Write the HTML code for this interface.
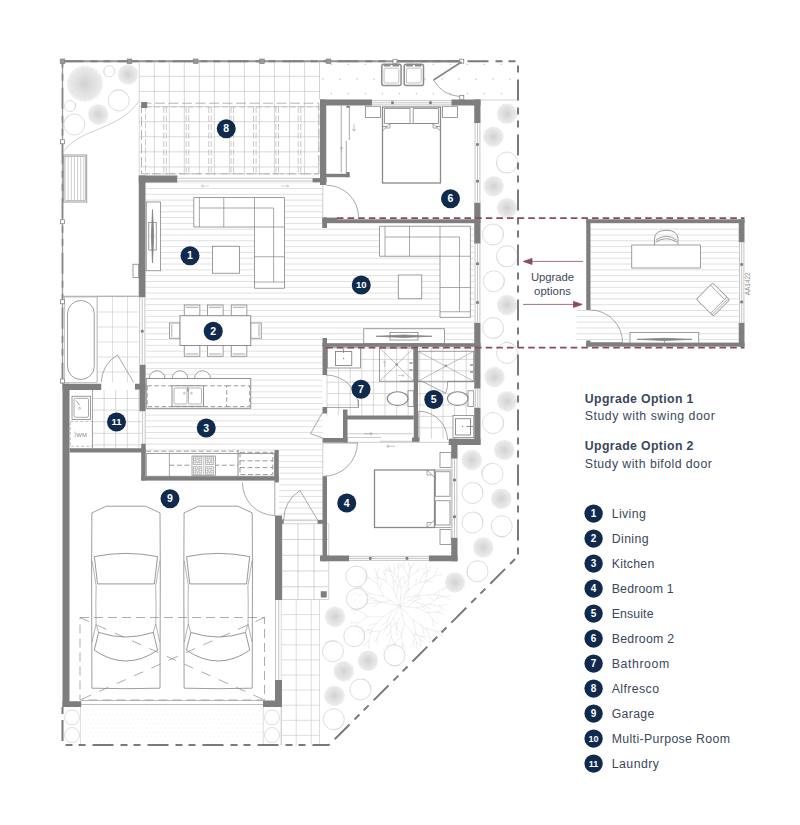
<!DOCTYPE html>
<html><head><meta charset="utf-8"><title>Floor plan</title>
<style>
html,body{margin:0;padding:0;background:#fff;}
body{width:800px;height:825px;overflow:hidden;font-family:"Liberation Sans",sans-serif;}
svg{display:block;}
svg text{font-family:"Liberation Sans",sans-serif;}
</style></head><body>
<svg width="800" height="825" viewBox="0 0 800 825">
<defs><radialGradient id="sb"><stop offset="0" stop-color="#cdcdcd"/><stop offset="0.3" stop-color="#dfdfdf"/><stop offset="0.85" stop-color="#eeeeee"/><stop offset="1" stop-color="#f9f9f9"/></radialGradient></defs>
<rect width="800" height="825" fill="#fff"/>
<path d="M139.25,61.25V175M154.28,61.25V175M169.31,61.25V175M184.34,61.25V175M199.37,61.25V175M214.4,61.25V175M229.43,61.25V175M244.46,61.25V175M259.49,61.25V175M274.52,61.25V175M289.55,61.25V175M304.58,61.25V175" fill="none" stroke="#c0c0c0" stroke-width="0.6" />
<path d="M139.25,61.25H319.5M139.25,76.35H319.5M139.25,91.45H319.5M139.25,106.55H319.5M139.25,121.65H319.5M139.25,136.75H319.5M139.25,151.85H319.5M139.25,166.95H319.5" fill="none" stroke="#c0c0c0" stroke-width="0.6" />
<line x1="319.5" y1="61.25" x2="319.5" y2="99.5" stroke="#c0c0c0" stroke-width="0.7" />
<path d="M330.7,64.4h1.4M331.4,63.7v1.4M347.7,64.4h1.4M348.4,63.7v1.4M364.7,64.4h1.4M365.4,63.7v1.4M381.7,64.4h1.4M382.4,63.7v1.4M398.7,64.4h1.4M399.4,63.7v1.4M415.7,64.4h1.4M416.4,63.7v1.4M432.7,64.4h1.4M433.4,63.7v1.4M449.7,64.4h1.4M450.4,63.7v1.4M466.7,64.4h1.4M467.4,63.7v1.4M483.7,64.4h1.4M484.4,63.7v1.4M500.7,64.4h1.4M501.4,63.7v1.4M322.3,79h1.4M323,78.3v1.4M339.3,79h1.4M340,78.3v1.4M356.3,79h1.4M357,78.3v1.4M373.3,79h1.4M374,78.3v1.4M390.3,79h1.4M391,78.3v1.4M407.3,79h1.4M408,78.3v1.4M424.3,79h1.4M425,78.3v1.4M441.3,79h1.4M442,78.3v1.4M458.3,79h1.4M459,78.3v1.4M475.3,79h1.4M476,78.3v1.4M492.3,79h1.4M493,78.3v1.4M509.3,79h1.4M510,78.3v1.4M330.7,93.6h1.4M331.4,92.9v1.4M347.7,93.6h1.4M348.4,92.9v1.4M364.7,93.6h1.4M365.4,92.9v1.4M381.7,93.6h1.4M382.4,92.9v1.4M398.7,93.6h1.4M399.4,92.9v1.4M415.7,93.6h1.4M416.4,92.9v1.4M432.7,93.6h1.4M433.4,92.9v1.4M449.7,93.6h1.4M450.4,92.9v1.4M466.7,93.6h1.4M467.4,92.9v1.4M483.7,93.6h1.4M484.4,92.9v1.4M500.7,93.6h1.4M501.4,92.9v1.4" fill="none" stroke="#b8b8b8" stroke-width="0.6" />
<line x1="480.5" y1="100" x2="517.5" y2="100" stroke="#c0c0c0" stroke-width="0.7" />
<path d="M97.5,296.25V382.5M112.5,296.25V382.5M127.5,296.25V382.5" fill="none" stroke="#cbcbcb" stroke-width="0.6" />
<path d="M97.5,296.25H138.75M97.5,312H138.75M97.5,327H138.75M97.5,342H138.75M97.5,357H138.75M97.5,372H138.75" fill="none" stroke="#cbcbcb" stroke-width="0.6" />
<line x1="62.5" y1="296.25" x2="138.75" y2="296.25" stroke="#858585" stroke-width="0.7" />
<path d="M92.5,390V448.25M104.1,390V448.25M115.7,390V448.25M127.3,390V448.25M138.9,390V448.25" fill="none" stroke="#c0c0c0" stroke-width="0.6" />
<path d="M92.5,398.5H141.75M92.5,410.1H141.75M92.5,421.7H141.75M92.5,433.3H141.75M92.5,444.9H141.75" fill="none" stroke="#c0c0c0" stroke-width="0.6" />
<path d="M327,348V415.5M338.6,348V415.5M350.2,348V415.5M361.8,348V415.5M373.4,348V415.5M385,348V415.5M396.6,348V415.5M408.2,348V415.5" fill="none" stroke="#c0c0c0" stroke-width="0.6" />
<path d="M327,348H413.75M327,359.4H413.75M327,370.8H413.75M327,382.2H413.75M327,393.6H413.75M327,405H413.75" fill="none" stroke="#c0c0c0" stroke-width="0.6" />
<path d="M419.8,348V438.75M431.4,348V438.75M443,348V438.75M454.6,348V438.75M466.2,348V438.75" fill="none" stroke="#c0c0c0" stroke-width="0.6" />
<path d="M418,348H474.25M418,359.4H474.25M418,370.8H474.25M418,382.2H474.25M418,393.6H474.25M418,405H474.25M418,416.4H474.25M418,427.8H474.25" fill="none" stroke="#c0c0c0" stroke-width="0.6" />
<path d="M282,523.75V599.5M298,523.75V599.5M314,523.75V599.5M328.75,523.75V599.5" fill="none" stroke="#c2c2c2" stroke-width="0.7" />
<path d="M282,523.75H328.75M282,539.5H328.75M282,555.25H328.75M282,571H328.75M282,586.75H328.75M282,599.5H328.75" fill="none" stroke="#c2c2c2" stroke-width="0.7" />
<path d="M281.25,599.5V745M296.25,599.5V745M311.25,599.5V745M319.5,599.5V745" fill="none" stroke="#c8c8c8" stroke-width="0.6" />
<path d="M281.25,614.6H319.5M281.25,629.7H319.5M281.25,644.8H319.5M281.25,659.9H319.5M281.25,675H319.5M281.25,690.1H319.5M281.25,705.2H319.5M281.25,720.3H319.5M281.25,735.4H319.5" fill="none" stroke="#c8c8c8" stroke-width="0.6" />
<path d="M84,710h0.01M88.5,710h0.01M93,710h0.01M97.5,710h0.01M102,710h0.01M106.5,710h0.01M111,710h0.01M115.5,710h0.01M120,710h0.01M124.5,710h0.01M129,710h0.01M133.5,710h0.01M138,710h0.01M142.5,710h0.01M147,710h0.01M151.5,710h0.01M156,710h0.01M160.5,710h0.01M165,710h0.01M169.5,710h0.01M174,710h0.01M178.5,710h0.01M183,710h0.01M187.5,710h0.01M192,710h0.01M196.5,710h0.01M201,710h0.01M205.5,710h0.01M210,710h0.01M214.5,710h0.01M219,710h0.01M223.5,710h0.01M228,710h0.01M232.5,710h0.01M237,710h0.01M241.5,710h0.01M246,710h0.01M250.5,710h0.01M255,710h0.01M259.5,710h0.01M86.2,714.5h0.01M90.7,714.5h0.01M95.2,714.5h0.01M99.7,714.5h0.01M104.2,714.5h0.01M108.7,714.5h0.01M113.2,714.5h0.01M117.7,714.5h0.01M122.2,714.5h0.01M126.7,714.5h0.01M131.2,714.5h0.01M135.7,714.5h0.01M140.2,714.5h0.01M144.7,714.5h0.01M149.2,714.5h0.01M153.7,714.5h0.01M158.2,714.5h0.01M162.7,714.5h0.01M167.2,714.5h0.01M171.7,714.5h0.01M176.2,714.5h0.01M180.7,714.5h0.01M185.2,714.5h0.01M189.7,714.5h0.01M194.2,714.5h0.01M198.7,714.5h0.01M203.2,714.5h0.01M207.7,714.5h0.01M212.2,714.5h0.01M216.7,714.5h0.01M221.2,714.5h0.01M225.7,714.5h0.01M230.2,714.5h0.01M234.7,714.5h0.01M239.2,714.5h0.01M243.7,714.5h0.01M248.2,714.5h0.01M252.7,714.5h0.01M257.2,714.5h0.01M261.7,714.5h0.01M84,719h0.01M88.5,719h0.01M93,719h0.01M97.5,719h0.01M102,719h0.01M106.5,719h0.01M111,719h0.01M115.5,719h0.01M120,719h0.01M124.5,719h0.01M129,719h0.01M133.5,719h0.01M138,719h0.01M142.5,719h0.01M147,719h0.01M151.5,719h0.01M156,719h0.01M160.5,719h0.01M165,719h0.01M169.5,719h0.01M174,719h0.01M178.5,719h0.01M183,719h0.01M187.5,719h0.01M192,719h0.01M196.5,719h0.01M201,719h0.01M205.5,719h0.01M210,719h0.01M214.5,719h0.01M219,719h0.01M223.5,719h0.01M228,719h0.01M232.5,719h0.01M237,719h0.01M241.5,719h0.01M246,719h0.01M250.5,719h0.01M255,719h0.01M259.5,719h0.01M86.2,723.5h0.01M90.7,723.5h0.01M95.2,723.5h0.01M99.7,723.5h0.01M104.2,723.5h0.01M108.7,723.5h0.01M113.2,723.5h0.01M117.7,723.5h0.01M122.2,723.5h0.01M126.7,723.5h0.01M131.2,723.5h0.01M135.7,723.5h0.01M140.2,723.5h0.01M144.7,723.5h0.01M149.2,723.5h0.01M153.7,723.5h0.01M158.2,723.5h0.01M162.7,723.5h0.01M167.2,723.5h0.01M171.7,723.5h0.01M176.2,723.5h0.01M180.7,723.5h0.01M185.2,723.5h0.01M189.7,723.5h0.01M194.2,723.5h0.01M198.7,723.5h0.01M203.2,723.5h0.01M207.7,723.5h0.01M212.2,723.5h0.01M216.7,723.5h0.01M221.2,723.5h0.01M225.7,723.5h0.01M230.2,723.5h0.01M234.7,723.5h0.01M239.2,723.5h0.01M243.7,723.5h0.01M248.2,723.5h0.01M252.7,723.5h0.01M257.2,723.5h0.01M261.7,723.5h0.01M84,728h0.01M88.5,728h0.01M93,728h0.01M97.5,728h0.01M102,728h0.01M106.5,728h0.01M111,728h0.01M115.5,728h0.01M120,728h0.01M124.5,728h0.01M129,728h0.01M133.5,728h0.01M138,728h0.01M142.5,728h0.01M147,728h0.01M151.5,728h0.01M156,728h0.01M160.5,728h0.01M165,728h0.01M169.5,728h0.01M174,728h0.01M178.5,728h0.01M183,728h0.01M187.5,728h0.01M192,728h0.01M196.5,728h0.01M201,728h0.01M205.5,728h0.01M210,728h0.01M214.5,728h0.01M219,728h0.01M223.5,728h0.01M228,728h0.01M232.5,728h0.01M237,728h0.01M241.5,728h0.01M246,728h0.01M250.5,728h0.01M255,728h0.01M259.5,728h0.01M86.2,732.5h0.01M90.7,732.5h0.01M95.2,732.5h0.01M99.7,732.5h0.01M104.2,732.5h0.01M108.7,732.5h0.01M113.2,732.5h0.01M117.7,732.5h0.01M122.2,732.5h0.01M126.7,732.5h0.01M131.2,732.5h0.01M135.7,732.5h0.01M140.2,732.5h0.01M144.7,732.5h0.01M149.2,732.5h0.01M153.7,732.5h0.01M158.2,732.5h0.01M162.7,732.5h0.01M167.2,732.5h0.01M171.7,732.5h0.01M176.2,732.5h0.01M180.7,732.5h0.01M185.2,732.5h0.01M189.7,732.5h0.01M194.2,732.5h0.01M198.7,732.5h0.01M203.2,732.5h0.01M207.7,732.5h0.01M212.2,732.5h0.01M216.7,732.5h0.01M221.2,732.5h0.01M225.7,732.5h0.01M230.2,732.5h0.01M234.7,732.5h0.01M239.2,732.5h0.01M243.7,732.5h0.01M248.2,732.5h0.01M252.7,732.5h0.01M257.2,732.5h0.01M261.7,732.5h0.01M84,737h0.01M88.5,737h0.01M93,737h0.01M97.5,737h0.01M102,737h0.01M106.5,737h0.01M111,737h0.01M115.5,737h0.01M120,737h0.01M124.5,737h0.01M129,737h0.01M133.5,737h0.01M138,737h0.01M142.5,737h0.01M147,737h0.01M151.5,737h0.01M156,737h0.01M160.5,737h0.01M165,737h0.01M169.5,737h0.01M174,737h0.01M178.5,737h0.01M183,737h0.01M187.5,737h0.01M192,737h0.01M196.5,737h0.01M201,737h0.01M205.5,737h0.01M210,737h0.01M214.5,737h0.01M219,737h0.01M223.5,737h0.01M228,737h0.01M232.5,737h0.01M237,737h0.01M241.5,737h0.01M246,737h0.01M250.5,737h0.01M255,737h0.01M259.5,737h0.01M86.2,741.5h0.01M90.7,741.5h0.01M95.2,741.5h0.01M99.7,741.5h0.01M104.2,741.5h0.01M108.7,741.5h0.01M113.2,741.5h0.01M117.7,741.5h0.01M122.2,741.5h0.01M126.7,741.5h0.01M131.2,741.5h0.01M135.7,741.5h0.01M140.2,741.5h0.01M144.7,741.5h0.01M149.2,741.5h0.01M153.7,741.5h0.01M158.2,741.5h0.01M162.7,741.5h0.01M167.2,741.5h0.01M171.7,741.5h0.01M176.2,741.5h0.01M180.7,741.5h0.01M185.2,741.5h0.01M189.7,741.5h0.01M194.2,741.5h0.01M198.7,741.5h0.01M203.2,741.5h0.01M207.7,741.5h0.01M212.2,741.5h0.01M216.7,741.5h0.01M221.2,741.5h0.01M225.7,741.5h0.01M230.2,741.5h0.01M234.7,741.5h0.01M239.2,741.5h0.01M243.7,741.5h0.01M248.2,741.5h0.01M252.7,741.5h0.01M257.2,741.5h0.01M261.7,741.5h0.01" fill="none" stroke="#e3e3e3" stroke-width="0.8" stroke-linecap="round"/>
<line x1="80.5" y1="707" x2="80.5" y2="745" stroke="#c8c8c8" stroke-width="0.6" />
<line x1="263.25" y1="707" x2="263.25" y2="745" stroke="#c8c8c8" stroke-width="0.6" />
<path d="M145.5,182.69H322.5M145.5,188.5H322.5M145.5,194.31H322.5M145.5,200.12H322.5M145.5,205.93H322.5M145.5,211.74H322.5M145.5,217.55H322.5" fill="none" stroke="#cbcbcb" stroke-width="0.6" />
<path d="M145.5,223.36H474.25M145.5,229.17H474.25M145.5,234.98H474.25M145.5,240.79H474.25M145.5,246.6H474.25M145.5,252.41H474.25M145.5,258.22H474.25M145.5,264.03H474.25M145.5,269.84H474.25M145.5,275.65H474.25M145.5,281.46H474.25M145.5,287.27H474.25M145.5,293.08H474.25M145.5,298.89H474.25M145.5,304.7H474.25M145.5,310.51H474.25M145.5,316.32H474.25M145.5,322.13H474.25M145.5,327.94H474.25M145.5,333.75H474.25M145.5,339.56H474.25" fill="none" stroke="#cbcbcb" stroke-width="0.6" />
<path d="M145.5,345.37H322.5M145.5,351.18H322.5M145.5,356.99H322.5M145.5,362.8H322.5M145.5,368.61H322.5M145.5,374.42H322.5M145.5,380.23H322.5M145.5,386.04H322.5M145.5,391.85H322.5M145.5,397.66H322.5M145.5,403.47H322.5M145.5,409.28H322.5M145.5,415.09H322.5M145.5,420.9H322.5M145.5,426.71H322.5M145.5,432.52H322.5M145.5,438.33H322.5M145.5,444.14H322.5M145.5,449.95H322.5" fill="none" stroke="#cbcbcb" stroke-width="0.6" />
<path d="M278.75,455.76H322.5M278.75,461.57H322.5M278.75,467.38H322.5M278.75,473.19H322.5M278.75,479H322.5M278.75,484.81H322.5M278.75,490.62H322.5M278.75,496.43H322.5M278.75,502.24H322.5M278.75,508.05H322.5M278.75,513.86H322.5M278.75,519.67H322.5" fill="none" stroke="#cbcbcb" stroke-width="0.6" />
<path d="M590.5,223.36H738.75M590.5,229.17H738.75M590.5,234.98H738.75M590.5,240.79H738.75M590.5,246.6H738.75M590.5,252.41H738.75M590.5,258.22H738.75M590.5,264.03H738.75M590.5,269.84H738.75M590.5,275.65H738.75M590.5,281.46H738.75M590.5,287.27H738.75M590.5,293.08H738.75M590.5,298.89H738.75M590.5,304.7H738.75M590.5,310.51H738.75M590.5,316.32H738.75M590.5,322.13H738.75M590.5,327.94H738.75M590.5,333.75H738.75M590.5,339.56H738.75" fill="none" stroke="#cbcbcb" stroke-width="0.6" />
<path d="M576.5,310.51H590.5M576.5,316.32H590.5M576.5,322.13H590.5M576.5,327.94H590.5M576.5,333.75H590.5M576.5,339.56H590.5" fill="none" stroke="#cbcbcb" stroke-width="0.6" />
<rect x="146.25" y="202" width="14.25" height="68.75" fill="#fff" stroke="#858585" stroke-width="0.8" />
<rect x="148.75" y="222.5" width="7.5" height="27.5" fill="none" stroke="#858585" stroke-width="0.8" />
<path d="M152.5,209.5L153.7,236L152.5,263L151.3,236Z" fill="#858585" stroke="#7c7c7c" stroke-width="0.7" />
<rect x="133" y="264.25" width="5.75" height="13.25" fill="#fff" stroke="#858585" stroke-width="0.8" />
<path d="M193.75,197.5H284.5V288.25H254.5V227H193.75Z" fill="#fff" stroke="#858585" stroke-width="0.8" />
<path d="M199.4,197.5V227M199.4,208H273.6V282H254.5M223.75,197.5V227M254.5,197.5V227M254.5,227H284.5M254.5,256.75H284.5M273.6,282H284.5" fill="none" stroke="#858585" stroke-width="0.7" />
<rect x="212.5" y="246.25" width="27" height="27" fill="#fff" stroke="#858585" stroke-width="0.8" />
<path d="M379.5,226.25H470.4V317.4H440V256.25H379.5Z" fill="#fff" stroke="#858585" stroke-width="0.8" />
<path d="M385,226.25V256.25M385,237H459.5V311.75H440M409.5,226.25V256.25M440,226.25V256.25M440,256.25H470.4M440,287.5H470.4M459.5,311.75H470.4" fill="none" stroke="#858585" stroke-width="0.7" />
<rect x="398.25" y="275" width="23.5" height="23.75" fill="#fff" stroke="#858585" stroke-width="0.8" />
<rect x="363.75" y="328.75" width="80.75" height="14.75" fill="#fff" stroke="#858585" stroke-width="0.8" />
<rect x="390" y="332.5" width="28" height="7.5" fill="none" stroke="#858585" stroke-width="0.8" />
<path d="M376,336.25L404,335L432,336.25L404,337.5Z" fill="#858585" stroke="#7c7c7c" stroke-width="0.7" />
<rect x="184.25" y="305" width="15.6" height="11" fill="#fff" stroke="#858585" stroke-width="0.8" />
<line x1="185.75" y1="307.3" x2="198.35" y2="307.3" stroke="#858585" stroke-width="0.7" />
<rect x="184.25" y="345.5" width="15.6" height="10.75" fill="#fff" stroke="#858585" stroke-width="0.8" />
<line x1="185.75" y1="354" x2="198.35" y2="354" stroke="#858585" stroke-width="0.7" />
<rect x="207.5" y="305" width="15.6" height="11" fill="#fff" stroke="#858585" stroke-width="0.8" />
<line x1="209" y1="307.3" x2="221.6" y2="307.3" stroke="#858585" stroke-width="0.7" />
<rect x="207.5" y="345.5" width="15.6" height="10.75" fill="#fff" stroke="#858585" stroke-width="0.8" />
<line x1="209" y1="354" x2="221.6" y2="354" stroke="#858585" stroke-width="0.7" />
<rect x="231.25" y="305" width="15.6" height="11" fill="#fff" stroke="#858585" stroke-width="0.8" />
<line x1="232.75" y1="307.3" x2="245.35" y2="307.3" stroke="#858585" stroke-width="0.7" />
<rect x="231.25" y="345.5" width="15.6" height="10.75" fill="#fff" stroke="#858585" stroke-width="0.8" />
<line x1="232.75" y1="354" x2="245.35" y2="354" stroke="#858585" stroke-width="0.7" />
<rect x="169.5" y="323" width="10.5" height="15.25" fill="#fff" stroke="#858585" stroke-width="0.8" />
<line x1="171.8" y1="324.5" x2="171.8" y2="336.8" stroke="#858585" stroke-width="0.7" />
<rect x="250.75" y="323" width="10.5" height="15.25" fill="#fff" stroke="#858585" stroke-width="0.8" />
<line x1="259" y1="324.5" x2="259" y2="336.8" stroke="#858585" stroke-width="0.7" />
<rect x="180" y="315.75" width="70.75" height="29.75" fill="#fff" stroke="#858585" stroke-width="0.9" />
<path d="M149,378.75A8,8 0 0 1 165,378.75" fill="#fff" stroke="#858585" stroke-width="0.8" />
<path d="M172,378.75A8,8 0 0 1 188,378.75" fill="#fff" stroke="#858585" stroke-width="0.8" />
<path d="M194.5,378.75A8,8 0 0 1 210.5,378.75" fill="#fff" stroke="#858585" stroke-width="0.8" />
<rect x="146.25" y="378.5" width="104.5" height="29.8" fill="#fff" stroke="#858585" stroke-width="0.9" />
<rect x="147.2" y="385.8" width="79.55" height="20.8" fill="none" stroke="#909090" stroke-width="0.9" stroke-dasharray="4.5 2.5"/>
<path d="M226.75,385.8H249.7V406.6H226.75" fill="none" stroke="#909090" stroke-width="0.9" stroke-dasharray="4.5 2.5"/>
<rect x="172" y="385.8" width="31.5" height="20.5" fill="#fff" stroke="#858585" stroke-width="0.9" />
<rect x="174" y="388" width="13" height="16" fill="none" stroke="#858585" stroke-width="0.6" rx="1.2"/>
<rect x="188.5" y="388" width="13" height="16" fill="none" stroke="#858585" stroke-width="0.6" rx="1.2"/>
<circle cx="184.4" cy="393.2" r="0.9" fill="none" stroke="#858585" stroke-width="0.5"/><circle cx="191.4" cy="393.2" r="0.9" fill="none" stroke="#858585" stroke-width="0.5"/>
<line x1="187.9" y1="386.5" x2="187.9" y2="391.5" stroke="#858585" stroke-width="1.1" />
<rect x="146.25" y="453.6" width="128.25" height="22.65" fill="#fff" stroke="#858585" stroke-width="0.8" />
<line x1="146.25" y1="451.2" x2="238" y2="451.2" stroke="#909090" stroke-width="0.9" stroke-dasharray="5 2.5"/>
<line x1="169.4" y1="453.6" x2="169.4" y2="476.25" stroke="#858585" stroke-width="0.7" />
<line x1="238" y1="450" x2="238" y2="476.25" stroke="#858585" stroke-width="0.9" />
<line x1="169.4" y1="465.2" x2="238" y2="465.2" stroke="#909090" stroke-width="0.9" stroke-dasharray="5 2.5"/>
<rect x="192" y="456" width="23.5" height="19.3" fill="#fff" stroke="#858585" stroke-width="0.7" />
<rect x="193.4" y="456.9" width="8.4" height="7.4" fill="none" stroke="#8f8f8f" stroke-width="0.6" />
<path d="M195.5,456.9v7.4M197.6,456.9v7.4M199.7,456.9v7.4M193.4,458.75h8.4M193.4,460.6h8.4M193.4,462.45h8.4" fill="none" stroke="#a0a0a0" stroke-width="0.45" />
<circle cx="197.6" cy="460.6" r="1.3" fill="#fff" stroke="#8f8f8f" stroke-width="0.5"/>
<rect x="205.4" y="456.9" width="8.4" height="7.4" fill="none" stroke="#8f8f8f" stroke-width="0.6" />
<path d="M207.5,456.9v7.4M209.6,456.9v7.4M211.7,456.9v7.4M205.4,458.75h8.4M205.4,460.6h8.4M205.4,462.45h8.4" fill="none" stroke="#a0a0a0" stroke-width="0.45" />
<circle cx="209.6" cy="460.6" r="1.3" fill="#fff" stroke="#8f8f8f" stroke-width="0.5"/>
<rect x="193.4" y="466.8" width="8.4" height="7.4" fill="none" stroke="#8f8f8f" stroke-width="0.6" />
<path d="M195.5,466.8v7.4M197.6,466.8v7.4M199.7,466.8v7.4M193.4,468.65h8.4M193.4,470.5h8.4M193.4,472.35h8.4" fill="none" stroke="#a0a0a0" stroke-width="0.45" />
<circle cx="197.6" cy="470.5" r="1.3" fill="#fff" stroke="#8f8f8f" stroke-width="0.5"/>
<rect x="205.4" y="466.8" width="8.4" height="7.4" fill="none" stroke="#8f8f8f" stroke-width="0.6" />
<path d="M207.5,466.8v7.4M209.6,466.8v7.4M211.7,466.8v7.4M205.4,468.65h8.4M205.4,470.5h8.4M205.4,472.35h8.4" fill="none" stroke="#a0a0a0" stroke-width="0.45" />
<circle cx="209.6" cy="470.5" r="1.3" fill="#fff" stroke="#8f8f8f" stroke-width="0.5"/>
<line x1="203.7" y1="456" x2="203.7" y2="475.3" stroke="#858585" stroke-width="0.5" />
<rect x="240" y="452.3" width="32.8" height="22.3" fill="none" stroke="#909090" stroke-width="0.9" stroke-dasharray="5 2.5"/>
<line x1="240" y1="460.8" x2="272.8" y2="460.8" stroke="#909090" stroke-width="0.9" stroke-dasharray="5 2.5"/>
<line x1="240" y1="467.6" x2="272.8" y2="467.6" stroke="#909090" stroke-width="0.9" stroke-dasharray="5 2.5"/>
<line x1="92.5" y1="390" x2="92.5" y2="448.25" stroke="#858585" stroke-width="0.6" />
<rect x="72" y="396.25" width="18.5" height="23.25" fill="#fff" stroke="#858585" stroke-width="0.8" />
<rect x="74" y="398.3" width="14.5" height="19" fill="none" stroke="#858585" stroke-width="0.7" rx="1.5"/>
<circle cx="79.5" cy="408.3" r="1" fill="none" stroke="#858585" stroke-width="0.5"/>
<path d="M76,400.5L79.5,405" fill="none" stroke="#858585" stroke-width="0.8" />
<rect x="70.3" y="421.5" width="22" height="24.8" fill="none" stroke="#9a9a9a" stroke-width="0.6" stroke-dasharray="3 2"/>
<text x="81.6" y="437" font-size="6.2" fill="#8a8a8a" text-anchor="middle" textLength="10.5" lengthAdjust="spacingAndGlyphs">WM</text>
<path d="M74.8,431.5q1.4,3.2 0,6.2" fill="none" stroke="#858585" stroke-width="0.5" />
<rect x="64.5" y="297" width="32.5" height="85.5" fill="#fff" stroke="#a0a0a0" stroke-width="0.6" />
<rect x="67.5" y="300.5" width="26.75" height="79" fill="none" stroke="#858585" stroke-width="0.8" rx="13.3"/>
<rect x="63.75" y="155" width="23" height="47" fill="#fff" stroke="#858585" stroke-width="0.8" />
<rect x="65" y="156.3" width="20.5" height="44" fill="none" stroke="#858585" stroke-width="0.5" />
<path d="M68.15,156.3V200.3M71.3,156.3V200.3M74.45,156.3V200.3M77.6,156.3V200.3M80.75,156.3V200.3M83.9,156.3V200.3" fill="none" stroke="#9c9c9c" stroke-width="0.5" />
<rect x="381.8" y="64.2" width="19.3" height="21.2" fill="#fff" stroke="#8c8c8c" stroke-width="1.5" rx="2"/>
<rect x="384.1" y="68.2" width="14.7" height="14.8" fill="none" stroke="#a8a8a8" stroke-width="0.7" rx="1"/>
<path d="M383.8,65.7H390.4M392.5,65.7H399.1" fill="none" stroke="#8c8c8c" stroke-width="1.6" />
<rect x="404.2" y="64.2" width="19.3" height="21.2" fill="#fff" stroke="#8c8c8c" stroke-width="1.5" rx="2"/>
<rect x="406.5" y="68.2" width="14.7" height="14.8" fill="none" stroke="#a8a8a8" stroke-width="0.7" rx="1"/>
<path d="M406.2,65.7H412.8M414.9,65.7H421.5" fill="none" stroke="#8c8c8c" stroke-width="1.6" />
<rect x="365.5" y="106.25" width="15" height="11.25" fill="#fff" stroke="#858585" stroke-width="0.8" />
<rect x="442.5" y="106.25" width="15" height="11.25" fill="#fff" stroke="#858585" stroke-width="0.8" />
<rect x="382.5" y="107" width="58" height="76" fill="#fff" stroke="#8a8a8a" stroke-width="1.3" />
<rect x="384.6" y="108.6" width="25.4" height="14.9" fill="#fff" stroke="#858585" stroke-width="0.8" />
<rect x="413.2" y="108.6" width="25.3" height="14.9" fill="#fff" stroke="#858585" stroke-width="0.8" />
<path d="M382.5,131L390,123.5H433L440.5,131M382.5,126.5H387M440.5,126.5H436" fill="none" stroke="#858585" stroke-width="0.8" />
<path d="M390,123.5V128H385.3M433,123.5V128H437.7" fill="none" stroke="#858585" stroke-width="0.7" />
<line x1="341.25" y1="105.5" x2="341.25" y2="172.5" stroke="#858585" stroke-width="0.7" />
<path d="M349.3,106V140M346.3,140.8V173.5" fill="none" stroke="#858585" stroke-width="0.7" />
<path d="M346.5,106h3v1.6h-3z" fill="#7e7e7e" stroke="#858585" stroke-width="0.3" />
<path d="M354,124V131M352.3,128.8L354,131.2L355.7,128.8" fill="none" stroke="#a0a0a0" stroke-width="0.6" />
<path d="M341.6,152V147M340.2,148.8L341.6,146.8L343,148.8" fill="none" stroke="#a0a0a0" stroke-width="0.6" />
<rect x="327.5" y="347.8" width="33" height="20.2" fill="#fff" stroke="#858585" stroke-width="0.8" />
<rect x="335.5" y="351.5" width="16.25" height="14" fill="#fff" stroke="#858585" stroke-width="0.9" />
<circle cx="343.6" cy="358.5" r="0.8" fill="#858585"/>
<line x1="343.6" y1="349" x2="343.6" y2="353" stroke="#858585" stroke-width="0.9" />
<rect x="379.5" y="348" width="34.25" height="33.25" fill="none" stroke="#858585" stroke-width="0.8" />
<path d="M379.5,348L413.75,381.25M413.75,348L379.5,381.25" fill="none" stroke="#858585" stroke-width="0.5" />
<circle cx="396.7" cy="364.6" r="1.3" fill="#9a9a9a"/>
<path d="M384.5,367V361M383.2,362.8L384.5,360.8L385.8,362.8" fill="none" stroke="#a5a5a5" stroke-width="0.5" />
<path d="M398,375.5H404M402.2,374.2L404.2,375.5L402.2,376.8" fill="none" stroke="#a5a5a5" stroke-width="0.5" />
<path d="M409.5,363h3M409.5,370h3" fill="none" stroke="#909090" stroke-width="1.4" />
<line x1="400" y1="381.3" x2="413.75" y2="381.3" stroke="#858585" stroke-width="0.9" />
<rect x="408" y="390.8" width="5.75" height="15.6" fill="#fff" stroke="#858585" stroke-width="0.8" />
<ellipse cx="397.6" cy="398.6" rx="10.4" ry="6.8" fill="#fff" stroke="#858585" stroke-width="1.1"/>
<rect x="418" y="351.25" width="55.75" height="30" fill="none" stroke="#858585" stroke-width="0.8" />
<path d="M418,351.25L473.75,381.25M473.75,351.25L418,381.25" fill="none" stroke="#858585" stroke-width="0.5" />
<circle cx="445.8" cy="365.8" r="1.3" fill="#9a9a9a"/>
<path d="M470,365h3M470,372h3" fill="none" stroke="#909090" stroke-width="1.4" />
<path d="M418,381.4H422.2M448,381.4H473.75" fill="none" stroke="#858585" stroke-width="0.9" />
<path d="M422.2,381.4L445.6,393.2A25.5,25.5 0 0 0 447.6,381.4" fill="none" stroke="#858585" stroke-width="0.7" />
<rect x="468" y="390.8" width="5.75" height="15.6" fill="#fff" stroke="#858585" stroke-width="0.8" />
<ellipse cx="457.7" cy="398.6" rx="10.3" ry="6.8" fill="#fff" stroke="#858585" stroke-width="1.1"/>
<rect x="453" y="415.5" width="20.75" height="22" fill="#fff" stroke="#858585" stroke-width="0.8" />
<rect x="455.5" y="418.7" width="15" height="16.3" fill="#fff" stroke="#858585" stroke-width="0.9" />
<circle cx="462.5" cy="426.5" r="0.7" fill="#858585"/><circle cx="467" cy="426.5" r="0.7" fill="#858585"/>
<line x1="467.5" y1="426.5" x2="473" y2="426.5" stroke="#858585" stroke-width="0.9" />
<rect x="440" y="452.5" width="11.25" height="15" fill="#fff" stroke="#858585" stroke-width="0.8" />
<rect x="440" y="529.5" width="11.25" height="15" fill="#fff" stroke="#858585" stroke-width="0.8" />
<rect x="434.5" y="470" width="16.75" height="57.5" fill="#fff" stroke="#858585" stroke-width="0.7" />
<rect x="435.5" y="471.75" width="14.5" height="24.5" fill="#fff" stroke="#858585" stroke-width="0.8" />
<rect x="435.5" y="500.75" width="14.5" height="24.25" fill="#fff" stroke="#858585" stroke-width="0.8" />
<rect x="374.5" y="470" width="60" height="57.5" fill="#fff" stroke="#8a8a8a" stroke-width="1.3" />
<path d="M427,470L434.5,477.5M427,527.5L434.5,520M427,470V475H431.5M427,527.5V522.5H431.5" fill="none" stroke="#858585" stroke-width="0.7" />
<path d="M347.5,433.75H412.5M347.5,437.5H381M380,441.25H412.5" fill="none" stroke="#a8a8a8" stroke-width="0.6" />
<path d="M364,433.75H372M370,432.3L372.3,433.75L370,435.2" fill="none" stroke="#9c9c9c" stroke-width="0.6" />
<path d="M395,446.25H387M389,444.8L386.7,446.25L389,447.7" fill="none" stroke="#9c9c9c" stroke-width="0.6" />
<line x1="347.5" y1="442.3" x2="451.25" y2="442.3" stroke="#a8a8a8" stroke-width="0.6" />
<path d="M106.2,506.2H145.7L160,512.9L160.3,570L160,688.2Q125.95,689.2 91.9,688.2L91.6,570L91.9,512.9Z" fill="#fff" stroke="#858585" stroke-width="0.8" />
<path d="M94.4,556.6Q125.95,550.2 157.5,556.6L154.4,583.9H97.5Z" fill="#fff" stroke="#858585" stroke-width="0.85" />
<path d="M92.1,561L96.2,586Q95.5,606 96.1,624L98.6,632.4" fill="none" stroke="#858585" stroke-width="0.6" />
<path d="M96.1,624L92.1,642" fill="none" stroke="#858585" stroke-width="0.6" />
<path d="M159.8,561L155.7,586Q156.4,606 155.8,624L153.3,632.4" fill="none" stroke="#858585" stroke-width="0.6" />
<path d="M155.8,624L159.8,642" fill="none" stroke="#858585" stroke-width="0.6" />
<path d="M98.6,632.4Q125.95,641.6 153.3,632.4L157.6,650.2Q125.95,671.8 94.3,650.2Z" fill="#fff" stroke="#858585" stroke-width="0.85" />
<path d="M198.4,506.2H237.9L252.2,512.9L252.5,570L252.2,688.2Q218.15,689.2 184.1,688.2L183.8,570L184.1,512.9Z" fill="#fff" stroke="#858585" stroke-width="0.8" />
<path d="M186.6,556.6Q218.15,550.2 249.7,556.6L246.6,583.9H189.7Z" fill="#fff" stroke="#858585" stroke-width="0.85" />
<path d="M184.3,561L188.4,586Q187.7,606 188.3,624L190.8,632.4" fill="none" stroke="#858585" stroke-width="0.6" />
<path d="M188.3,624L184.3,642" fill="none" stroke="#858585" stroke-width="0.6" />
<path d="M252,561L247.9,586Q248.6,606 248,624L245.5,632.4" fill="none" stroke="#858585" stroke-width="0.6" />
<path d="M248,624L252,642" fill="none" stroke="#858585" stroke-width="0.6" />
<path d="M190.8,632.4Q218.15,641.6 245.5,632.4L249.8,650.2Q218.15,671.8 186.5,650.2Z" fill="#fff" stroke="#858585" stroke-width="0.85" />
<rect x="80" y="617.5" width="184.5" height="82.5" fill="none" stroke="#8a8a8a" stroke-width="0.7" stroke-dasharray="9 5"/>
<path d="M80,617.5L264.5,700M264.5,617.5L80,700" fill="none" stroke="#8a8a8a" stroke-width="0.7" stroke-dasharray="10 9"/>
<path d="M81.25,700.5H263M81.25,704.5H263" fill="none" stroke="#a0a0a0" stroke-width="0.7" />
<circle cx="72" cy="717.5" r="7.5" fill="#fff" stroke="#cfcfcf" stroke-width="0.7"/>
<circle cx="72" cy="735" r="7.5" fill="#fff" stroke="#cfcfcf" stroke-width="0.7"/>
<circle cx="272" cy="717.5" r="7.5" fill="#fff" stroke="#cfcfcf" stroke-width="0.7"/>
<circle cx="272" cy="735" r="7.5" fill="#fff" stroke="#cfcfcf" stroke-width="0.7"/>
<line x1="281.25" y1="707" x2="281.25" y2="745" stroke="#c0c0c0" stroke-width="0.6" />
<rect x="138.75" y="175.5" width="6.75" height="122" fill="#7e7e7e" />
<rect x="138.75" y="175.5" width="38.75" height="7" fill="#7e7e7e" />
<rect x="139.5" y="364.5" width="6.1" height="46.75" fill="#7e7e7e" />
<rect x="135" y="383.75" width="10.6" height="5.85" fill="#7e7e7e" />
<rect x="62.5" y="383.75" width="38.75" height="6.25" fill="#7e7e7e" />
<rect x="62.5" y="383.75" width="7" height="323.25" fill="#7e7e7e" />
<rect x="62.5" y="701.25" width="18.75" height="5.75" fill="#7e7e7e" />
<rect x="69.5" y="448.25" width="76.2" height="4.25" fill="#7e7e7e" />
<rect x="141.2" y="443.75" width="4.5" height="36.75" fill="#7e7e7e" />
<rect x="141.2" y="476.4" width="137.55" height="4.2" fill="#7e7e7e" />
<rect x="274.5" y="450" width="4.25" height="32.5" fill="#7e7e7e" />
<rect x="275" y="515.5" width="7" height="84.5" fill="#7e7e7e" />
<rect x="275" y="519.5" width="8.75" height="4.25" fill="#7e7e7e" />
<rect x="275" y="680" width="7" height="27" fill="#7e7e7e" />
<rect x="263" y="700.5" width="19" height="6.5" fill="#7e7e7e" />
<rect x="320" y="99.5" width="6.25" height="85.5" fill="#7e7e7e" />
<rect x="320" y="99.5" width="52" height="6" fill="#7e7e7e" />
<rect x="451.25" y="99.5" width="29.25" height="6" fill="#7e7e7e" />
<rect x="474.25" y="99.5" width="6.25" height="23.5" fill="#7e7e7e" />
<rect x="474.25" y="202.5" width="6.25" height="41.25" fill="#7e7e7e" />
<rect x="312" y="178.1" width="14.6" height="4.1" fill="#7e7e7e" />
<rect x="326" y="173.8" width="23.6" height="3.4" fill="#7e7e7e" />
<rect x="346.3" y="172" width="3.3" height="5.2" fill="#7e7e7e" />
<rect x="322.25" y="219.3" width="158.25" height="3.7" fill="#7e7e7e" />
<rect x="322.25" y="217.25" width="4.75" height="10.75" fill="#7e7e7e" />
<rect x="327" y="217.6" width="10" height="5.4" fill="#7e7e7e" />
<rect x="474.25" y="322.5" width="6.25" height="66.25" fill="#7e7e7e" />
<rect x="474.25" y="407.5" width="6.25" height="37.5" fill="#7e7e7e" />
<rect x="448.75" y="438.75" width="31.75" height="6.25" fill="#7e7e7e" />
<rect x="322.5" y="338" width="4.5" height="37" fill="#7e7e7e" />
<rect x="322.5" y="343.2" width="158" height="3.6" fill="#7e7e7e" />
<rect x="413.75" y="343.2" width="4.25" height="98.3" fill="#7e7e7e" />
<rect x="412" y="437.5" width="7.5" height="4.25" fill="#7e7e7e" />
<rect x="343" y="415.5" width="70.75" height="4" fill="#7e7e7e" />
<rect x="322.5" y="407" width="4.5" height="6.5" fill="#7e7e7e" />
<rect x="343" y="409.5" width="4.5" height="33" fill="#7e7e7e" />
<rect x="322.5" y="438" width="25" height="4.5" fill="#7e7e7e" />
<rect x="322.5" y="476.25" width="4.5" height="85" fill="#7e7e7e" />
<rect x="320" y="555.5" width="29.25" height="5.75" fill="#7e7e7e" />
<rect x="428.75" y="555.5" width="28.75" height="5.75" fill="#7e7e7e" />
<rect x="451.25" y="438.75" width="6.25" height="20" fill="#7e7e7e" />
<rect x="451.25" y="537.5" width="6.25" height="23.75" fill="#7e7e7e" />
<rect x="317.5" y="520" width="5.5" height="3.75" fill="#7e7e7e" />
<rect x="586.25" y="219.3" width="4.25" height="90.7" fill="#7e7e7e" />
<rect x="586.25" y="219.3" width="158.25" height="3.7" fill="#7e7e7e" />
<rect x="738.75" y="219.3" width="5.75" height="23.2" fill="#7e7e7e" />
<rect x="738.75" y="322.5" width="5.75" height="24.1" fill="#7e7e7e" />
<rect x="586.25" y="342.6" width="158.25" height="4" fill="#7e7e7e" />
<rect x="586.25" y="340.5" width="4.25" height="6.1" fill="#7e7e7e" />
<rect x="372" y="100" width="79.25" height="5.5" fill="#fff" />
<path d="M372,100.6H451.25M372,104.9H451.25M372,102.75H451.25" fill="none" stroke="#a0a0a0" stroke-width="0.6" />
<rect x="391.2" y="101.35" width="2.6" height="2.8" fill="#7e7e7e" />
<rect x="429.2" y="101.35" width="2.6" height="2.8" fill="#7e7e7e" />
<rect x="474.5" y="123" width="6" height="79.5" fill="#fff" />
<path d="M475.1,123V202.5M479.9,123V202.5M477.5,123V202.5" fill="none" stroke="#a0a0a0" stroke-width="0.6" />
<rect x="476.1" y="143.2" width="2.8" height="2.6" fill="#7e7e7e" />
<rect x="476.1" y="179.95" width="2.8" height="2.6" fill="#7e7e7e" />
<rect x="474.5" y="243.75" width="6" height="78.75" fill="#fff" />
<path d="M475.1,243.75V322.5M479.9,243.75V322.5M477.5,243.75V322.5" fill="none" stroke="#a0a0a0" stroke-width="0.6" />
<rect x="476.1" y="262.45" width="2.8" height="2.6" fill="#7e7e7e" />
<rect x="476.1" y="301.2" width="2.8" height="2.6" fill="#7e7e7e" />
<rect x="475" y="388.75" width="5.5" height="18.75" fill="#fff" />
<path d="M475.6,388.75V407.5M479.9,388.75V407.5M477.75,388.75V407.5" fill="none" stroke="#a0a0a0" stroke-width="0.6" />
<rect x="451.5" y="458.75" width="6" height="78.75" fill="#fff" />
<path d="M452.1,458.75V537.5M456.9,458.75V537.5M454.5,458.75V537.5" fill="none" stroke="#a0a0a0" stroke-width="0.6" />
<rect x="453.1" y="478.7" width="2.8" height="2.6" fill="#7e7e7e" />
<rect x="453.1" y="515.45" width="2.8" height="2.6" fill="#7e7e7e" />
<rect x="349.25" y="555.8" width="79.5" height="5.2" fill="#fff" />
<path d="M349.25,556.4H428.75M349.25,560.4H428.75M349.25,558.4H428.75" fill="none" stroke="#a0a0a0" stroke-width="0.6" />
<rect x="369" y="557" width="2.6" height="2.8" fill="#7e7e7e" />
<rect x="405.7" y="557" width="2.6" height="2.8" fill="#7e7e7e" />
<rect x="139" y="297.5" width="6.5" height="67" fill="#fff" />
<path d="M139.6,297.5V364.5M144.9,297.5V364.5M142.25,297.5V364.5" fill="none" stroke="#a0a0a0" stroke-width="0.6" />
<rect x="140.85" y="329.95" width="2.8" height="2.6" fill="#7e7e7e" />
<rect x="738.9" y="242.5" width="5.6" height="80" fill="#fff" />
<path d="M739.5,242.5V322.5M743.9,242.5V322.5M741.7,242.5V322.5" fill="none" stroke="#a0a0a0" stroke-width="0.6" />
<rect x="740.3" y="263.2" width="2.8" height="2.6" fill="#7e7e7e" />
<rect x="740.3" y="300.7" width="2.8" height="2.6" fill="#7e7e7e" />
<rect x="177.5" y="176.5" width="135" height="6" fill="#fff" />
<path d="M177.5,178.3H312.5M177.5,181H312.5" fill="none" stroke="#a0a0a0" stroke-width="0.6" />
<path d="M209,186H201.5M203.5,184.7L201.3,186L203.5,187.3M281,186H288.5M286.5,184.7L288.7,186L286.5,187.3" fill="none" stroke="#a8a8a8" stroke-width="0.5" />
<path d="M142.6,411.25V443.75M145.2,411.25V443.75" fill="none" stroke="#a0a0a0" stroke-width="0.6" />
<path d="M275.5,600V680M278.75,600V680" fill="none" stroke="#a0a0a0" stroke-width="0.6" />
<path d="M326.6,185.3A32,32 0 0 1 358.6,217.3" fill="none" stroke="#858585" stroke-width="0.7" />
<line x1="322.8" y1="185.3" x2="322.8" y2="217.3" stroke="#a8a8a8" stroke-width="0.6" />
<path d="M326,407.5H358.5V400M326,375A32.5,32.5 0 0 1 358.5,407.5" fill="none" stroke="#858585" stroke-width="0.7" />
<path d="M418.75,440V411.25A28.75,28.75 0 0 1 447.5,440" fill="none" stroke="#858585" stroke-width="0.7" />
<path d="M323,443H357.5A34,34 0 0 1 323,476.25" fill="none" stroke="#858585" stroke-width="0.7" />
<line x1="322.8" y1="443" x2="322.8" y2="476.25" stroke="#b0b0b0" stroke-width="0.6" />
<path d="M322.5,412.5L310.5,433.75L322.5,437.8" fill="none" stroke="#858585" stroke-width="0.7" />
<path d="M274.8,482.5V515.5M242.5,482.5A32.5,32.5 0 0 0 274.8,515.5" fill="none" stroke="#858585" stroke-width="0.7" />
<path d="M317.5,520L300,490.5A34,34 0 0 0 283.75,520" fill="none" stroke="#858585" stroke-width="0.7" />
<line x1="283.75" y1="520.6" x2="317.5" y2="520.6" stroke="#b0b0b0" stroke-width="0.6" />
<path d="M133.75,382.5L117.5,355A32,32 0 0 0 101.25,382.5" fill="none" stroke="#858585" stroke-width="0.7" />
<path d="M590.5,342.5H622.5M590.5,310A32.3,32.3 0 0 1 622.5,342.5" fill="none" stroke="#858585" stroke-width="0.7" />
<rect x="631.75" y="245" width="68.75" height="23" fill="#fff" stroke="#858585" stroke-width="0.8" />
<path d="M654.5,245V239Q654.5,230.3 666.3,230.3Q678,230.3 678,239V245M656,240Q666.3,232.5 676.5,240M655.5,242.3Q666.3,235 677,242.3" fill="none" stroke="#858585" stroke-width="0.8" />
<rect x="630" y="332.5" width="68.75" height="10.5" fill="#fff" stroke="#858585" stroke-width="0.8" />
<path d="M637,339.3L664.5,338.3L692,339.3L664.5,340.6Z" fill="#858585" stroke="#7c7c7c" stroke-width="0.7" />
<line x1="664.5" y1="340.6" x2="664.5" y2="343" stroke="#858585" stroke-width="0.8" />
<g transform="translate(713 299.5) rotate(-45)">
<rect x="-11.5" y="-12" width="23" height="24" fill="#fff" stroke="#858585" stroke-width="0.9" rx="1.5"/>
<path d="M-11.5,8H11.5M8.3,-12V8M-11.5,10H11.5" fill="none" stroke="#858585" stroke-width="0.7" />
</g>
<text transform="translate(750.2 295.3) rotate(-90)" font-size="6.3" fill="#8f8f8f" textLength="23" lengthAdjust="spacingAndGlyphs">AA1422</text>
<path d="M63.75,151.25C80,128 120,130 138.75,101.25" fill="none" stroke="#b0b0b0" stroke-width="0.6" />
<rect x="141.5" y="103.2" width="177.3" height="70.6" fill="none" stroke="#a2a2a2" stroke-width="0.8" stroke-dasharray="10 3.5"/>
<rect x="145.5" y="107" width="173.3" height="66.8" fill="none" stroke="#b3b3b3" stroke-width="0.7" stroke-dasharray="6 2.5"/>
<path d="M163.7,107V173.8M166.3,107V173.8" fill="none" stroke="#b3b3b3" stroke-width="0.7" stroke-dasharray="6 2.5"/>
<path d="M186.2,107V173.8M188.8,107V173.8" fill="none" stroke="#b3b3b3" stroke-width="0.7" stroke-dasharray="6 2.5"/>
<path d="M208.7,107V173.8M211.3,107V173.8" fill="none" stroke="#b3b3b3" stroke-width="0.7" stroke-dasharray="6 2.5"/>
<path d="M231,107V173.8M233.6,107V173.8" fill="none" stroke="#b3b3b3" stroke-width="0.7" stroke-dasharray="6 2.5"/>
<path d="M253.5,107V173.8M256.1,107V173.8" fill="none" stroke="#b3b3b3" stroke-width="0.7" stroke-dasharray="6 2.5"/>
<path d="M275.9,107V173.8M278.5,107V173.8" fill="none" stroke="#b3b3b3" stroke-width="0.7" stroke-dasharray="6 2.5"/>
<path d="M298.2,107V173.8M300.8,107V173.8" fill="none" stroke="#b3b3b3" stroke-width="0.7" stroke-dasharray="6 2.5"/>
<rect x="141.25" y="102" width="5.95" height="6" fill="#7e7e7e" />
<rect x="320.75" y="591.25" width="6" height="6.25" fill="#7e7e7e" />
<path d="M400,606L383.44,596.21M383.44,596.21L377.47,584.26M377.47,584.26L377.13,574.72M377.13,574.72L378.97,568.28M377.13,574.72L374.9,567.93M377.47,584.26L369.7,578.61M369.7,578.61L366.15,573.81M369.7,578.61L363.48,576.21M379.86,589.05L382.03,582.03M383.44,596.21L369.45,593.44M369.45,593.44L362.22,588.23M362.22,588.23L359.5,583.25M362.22,588.23L356.44,587.45M369.45,593.44L359.52,595.48M359.52,595.48L352.19,594.61M359.52,595.48L354.87,600.02M390.85,600.59L380.36,602M380.36,602L373.36,600.21M380.36,602L373.51,606.6M400,606L393.84,589.97M393.84,589.97L393.06,578.14M393.06,578.14L394.65,569.78M394.65,569.78L398.51,565.45M394.65,569.78L393.49,563.77M393.06,578.14L389.34,570.45M389.34,570.45L388.83,564.87M389.34,570.45L384.48,566.55M393.41,583.42L396.71,577.8M393.84,589.97L386.51,581.61M386.51,581.61L384.99,574.75M384.99,574.75L385.55,569.8M384.99,574.75L382.75,571M386.51,581.61L379.46,578.01M379.46,578.01L375.6,574.28M379.46,578.01L374.37,577.92M396.36,596.53L397.87,587.21M397.87,587.21L400.87,581.95M397.87,587.21L395.04,580.84M400,606L401.15,588.73M401.15,588.73L408.87,577.84M408.87,577.84L416.05,571.86M416.05,571.86L422.19,568.98M416.05,571.86L419.47,566.72M408.87,577.84L410.77,568.77M410.77,568.77L414.69,563.57M410.77,568.77L408.58,563.28M404.57,583.9L403.9,576.59M401.15,588.73L398.01,577.3M398.01,577.3L398.61,568.77M398.61,568.77L402.19,563.54M398.61,568.77L397.23,563.46M398.01,577.3L391.25,571.49M391.25,571.49L387.9,566.28M391.25,571.49L384.87,570.04M399.32,582.07L402.22,576.23M400.47,598.96L406.32,591.45M406.32,591.45L411.21,588.03M406.32,591.45L407.26,584.15M400,606L408.93,589.36M408.93,589.36L419.19,582.66M419.19,582.66L427.24,580.75M427.24,580.75L432.86,582.25M427.24,580.75L430.9,576.98M419.19,582.66L423.88,574.54M423.88,574.54L429.13,570.42M423.88,574.54L424.16,568.42M415.81,584.87L416.49,578.16M408.93,589.36L408.2,576.61M408.2,576.61L410.14,568.01M410.14,568.01L414.18,562.86M410.14,568.01L408.41,562.57M408.2,576.61L403.8,568.32M403.8,568.32L404.19,561.47M403.8,568.32L398.99,563.78M404.41,597.79L414.6,595.76M414.6,595.76L421.58,598.37M414.6,595.76L420.39,591.62M400,606L417.91,595.68M417.91,595.68L433.94,594.35M433.94,594.35L443.93,596.48M443.93,596.48L450.75,600.37M443.93,596.48L451.01,595.58M433.94,594.35L442.86,589.29M442.86,589.29L449.22,588.52M442.86,589.29L447.2,584.62M427.12,594.91L433.86,600.64M417.91,595.68L425.14,582.71M425.14,582.71L434.29,576.13M434.29,576.13L441.53,574.77M434.29,576.13L437.27,568.59M425.14,582.71L427.24,571.85M427.24,571.85L430.67,565.71M427.24,571.85L425.45,563.52M410.22,600.11L420.94,603.91M420.94,603.91L425.27,609.73M420.94,603.91L428.11,604.1M400,606L417.48,607.95M417.48,607.95L427.93,612.69M427.93,612.69L432.98,620.05M432.98,620.05L433.14,625.73M432.98,620.05L438.09,623.59M427.93,612.69L436.58,612.08M436.58,612.08L442.4,613.53M436.58,612.08L441.31,609.5M417.48,607.95L429.58,604.46M429.58,604.46L439.26,605.88M439.26,605.88L444.3,609.94M439.26,605.88L446.5,604.06M429.58,604.46L436.82,598.69M436.82,598.69L442.58,596.27M436.82,598.69L439.36,593.16M424.25,606L430.56,608.85M407.59,606.85L415.09,600.73M415.09,600.73L421.32,598.49M415.09,600.73L418.94,594.42M400,606L413.21,620.42M413.21,620.42L415.76,632.51M415.76,632.51L413.49,641.39M413.49,641.39L410.01,647.52M413.49,641.39L414.71,647.03M415.76,632.51L420.31,639.37M420.31,639.37L420.94,645.17M420.31,639.37L424.42,642.48M413.21,620.42L426.08,628.52M426.08,628.52L430.08,637.26M430.08,637.26L429.17,643.82M430.08,637.26L436.05,641.05M426.08,628.52L436.64,631.46M436.64,631.46L442.19,635.96M436.64,631.46L444.06,629.86M422.21,626.08L424,634.26M400,606L404.36,623.55M404.36,623.55L401.22,636.01M401.22,636.01L395.23,643.08M395.23,643.08L389.57,645.17M395.23,643.08L392.74,648.36M401.22,636.01L402.78,643.98M402.78,643.98L402.27,649.86M402.78,643.98L405.49,648.74M404.36,623.55L413.13,633.73M413.13,633.73L416.62,642.29M416.62,642.29L416.95,649.21M416.62,642.29L421.66,646.91M413.13,633.73L421.25,636.26M421.25,636.26L426.29,639.58M421.25,636.26L426.81,636.41M401.93,613.77L396.99,622.41M396.99,622.41L391.11,627.23M396.99,622.41L396.8,629.02M400,606L390.38,623.44M390.38,623.44L380.23,630.94M380.23,630.94L372.39,631.69M372.39,631.69L367.2,629.55M372.39,631.69L367.21,633.89M380.23,630.94L377,638.55M377,638.55L373.69,642.73M377,638.55L377.3,644.08M386.24,626.5L383.57,632.9M390.38,623.44L391.23,636.84M391.23,636.84L388.15,645.38M388.15,645.38L383.44,649.28M388.15,645.38L388.82,651.03M391.23,636.84L394.91,644.53M394.91,644.53L395.11,650.54M394.91,644.53L400.47,647.95M390.82,630.37L386.99,636.68M393.5,617.79L396.71,628.26M396.71,628.26L397.02,635.89M396.71,628.26L402.07,633.99M400,606L382.48,616.92M382.48,616.92L367.61,616.61M367.61,616.61L358.93,610.66M358.93,610.66L355.92,603.96M358.93,610.66L351.35,608.16M367.61,616.61L358.27,622.61M358.27,622.61L349.99,623.02M358.27,622.61L355.04,629.58M382.48,616.92L372.15,628.87M372.15,628.87L362.55,632.09M362.55,632.09L355.39,630.75M362.55,632.09L356.35,636.77M372.15,628.87L368.84,640.45M368.84,640.45L363.53,645.92M368.84,640.45L369.13,648.28M376.81,623.47L368.36,625.46M392.6,610.61L387.45,620.73M387.45,620.73L381.48,625.87M387.45,620.73L386.7,629.02M400,606L380.15,602.24M380.15,602.24L367.48,595.17M367.48,595.17L361.05,587.68M361.05,587.68L359.29,581.33M361.05,587.68L354.81,583.93M367.48,595.17L356.68,593.61M356.68,593.61L350.29,590.71M356.68,593.61L348.7,595.62M373.54,598.55L365.62,599.56M380.15,602.24L365.49,603.93M365.49,603.93L354.69,600.54M354.69,600.54L348.72,594.72M354.69,600.54L347.04,602.83M365.49,603.93L357.33,609.05M357.33,609.05L351.03,610.28M357.33,609.05L353.47,614.06" fill="none" stroke="#dedede" stroke-width="0.5" stroke-linecap="round"/>
<circle cx="85" cy="83.75" r="18.5" fill="url(#sb)"/>
<path d="M85,83.75L101.93,83.51M85,83.75L101.68,85.6M85,83.75L101.98,87.18M85,83.75L102,88.26M85,83.75L101.36,89.83M85,83.75L100.1,91.16M85,83.75L100.18,93.76M85,83.75L98.51,94.17M85,83.75L97.88,96.9M85,83.75L95.95,97.26M85,83.75L93.76,98.01M85,83.75L92.66,99.13M85,83.75L91.9,99.14M85,83.75L90.54,101.05M85,83.75L88.9,101.04M85,83.75L86.51,101.02M85,83.75L84.94,100.52M85,83.75L83.93,100.75M85,83.75L81.35,100.81M85,83.75L80.11,100.79M85,83.75L78.48,99.67M85,83.75L76.17,99.37M85,83.75L75.46,98.68M85,83.75L73.38,97.85M85,83.75L72.63,95.67M85,83.75L71.56,93.94M85,83.75L70.06,93.88M85,83.75L69.75,92.45M85,83.75L68.74,91.2M85,83.75L67.95,88.53M85,83.75L68.01,86.6M85,83.75L67.31,85.21M85,83.75L67.51,83.64M85,83.75L66.75,81.45M85,83.75L67.46,80.3M85,83.75L67.65,79.15M85,83.75L68,76.47M85,83.75L70.07,75.27M85,83.75L70.04,73.95M85,83.75L71.05,73.17M85,83.75L72.76,72.14M85,83.75L73.05,70.19M85,83.75L75.08,69.81M85,83.75L76.25,67.72M85,83.75L77.77,67.83M85,83.75L79.76,66.23M85,83.75L81.9,65.77M85,83.75L82.99,66.45M85,83.75L84.79,65.47M85,83.75L87.28,66.97M85,83.75L87.9,66.92M85,83.75L89.73,66.85M85,83.75L91.67,67.97M85,83.75L92.6,68.07M85,83.75L94.68,68.93M85,83.75L96.87,70.31M85,83.75L97.6,71.18M85,83.75L98.1,73.31M85,83.75L100.36,74.18M85,83.75L101.23,75.69M85,83.75L101.01,76.96M85,83.75L101.88,78.04M85,83.75L101.33,79.9M85,83.75L101.83,81.7" fill="none" stroke="#d6d6d6" stroke-width="0.3" />
<circle cx="109.25" cy="71.25" r="5.5" fill="#fff" fill-opacity="0.6" stroke="#cfcfcf" stroke-width="0.7"/>
<path d="M105.99,76.4A5.5,5.5 0 0 1 104.37,69.77" fill="none" stroke="#cfcfcf" stroke-width="0.5" />
<circle cx="128" cy="74.5" r="10.5" fill="url(#sb)"/>
<path d="M128,74.5L137.44,74.16M128,74.5L137.45,75.9M128,74.5L136.94,77.64M128,74.5L136.59,79.81M128,74.5L135.61,80.53M128,74.5L134.41,81.95M128,74.5L133.44,83.3M128,74.5L131.03,83.97M128,74.5L129.67,83.89M128,74.5L128.31,84.3M128,74.5L126.4,84.7M128,74.5L125,83.49M128,74.5L122.69,82.98M128,74.5L121.78,82.36M128,74.5L120.58,81.22M128,74.5L118.84,79.33M128,74.5L118.81,77.68M128,74.5L118.54,76.27M128,74.5L117.99,74.28M128,74.5L118.39,72.58M128,74.5L118.24,71.19M128,74.5L119.25,68.98M128,74.5L120.27,67.68M128,74.5L121.92,66.96M128,74.5L123.1,65.99M128,74.5L124.42,65.72M128,74.5L126.14,64.96M128,74.5L128.16,64.05M128,74.5L129.77,64.22M128,74.5L131.96,64.82M128,74.5L132.75,66.06M128,74.5L134.04,66.97M128,74.5L135.59,67.82M128,74.5L137.11,69.62M128,74.5L137.52,71.02M128,74.5L137.43,73.07" fill="none" stroke="#d6d6d6" stroke-width="0.3" />
<circle cx="118.75" cy="100.5" r="10.5" fill="#fff" fill-opacity="0.6" stroke="#cfcfcf" stroke-width="0.7"/>
<path d="M112.82,91.12A10.5,10.5 0 0 1 125.53,93.01" fill="none" stroke="#cfcfcf" stroke-width="0.5" />
<circle cx="98.25" cy="114.5" r="10.5" fill="url(#sb)"/>
<path d="M98.25,114.5L108.52,114.84M98.25,114.5L108.01,116.42M98.25,114.5L108,117.77M98.25,114.5L107.23,119.53M98.25,114.5L105.56,121.12M98.25,114.5L105.03,122.45M98.25,114.5L102.91,122.92M98.25,114.5L101.8,123.43M98.25,114.5L99.71,124.69M98.25,114.5L98.54,124.81M98.25,114.5L96.11,124.41M98.25,114.5L94.93,123.96M98.25,114.5L93.76,122.83M98.25,114.5L91.45,122.01M98.25,114.5L90.25,121.19M98.25,114.5L89.3,119.73M98.25,114.5L89.08,117.57M98.25,114.5L88.68,116.38M98.25,114.5L88.19,114.71M98.25,114.5L88.48,112.97M98.25,114.5L88.37,111.23M98.25,114.5L89.59,109.64M98.25,114.5L90.33,107.76M98.25,114.5L91.51,106.57M98.25,114.5L93.25,105.83M98.25,114.5L95.03,105.6M98.25,114.5L96.53,105.01M98.25,114.5L97.84,104.22M98.25,114.5L99.72,104.66M98.25,114.5L101.85,105.13M98.25,114.5L103.13,105.78M98.25,114.5L104.89,106.66M98.25,114.5L105.73,107.81M98.25,114.5L106.59,109.46M98.25,114.5L107.7,111.29M98.25,114.5L108.35,112.77" fill="none" stroke="#d6d6d6" stroke-width="0.3" />
<circle cx="70" cy="106" r="5.5" fill="#fff" fill-opacity="0.6" stroke="#cfcfcf" stroke-width="0.7"/>
<path d="M75.19,102.8A5.5,5.5 0 0 1 73.74,109.47" fill="none" stroke="#cfcfcf" stroke-width="0.5" />
<circle cx="74.25" cy="124.5" r="10.5" fill="#fff" fill-opacity="0.6" stroke="#cfcfcf" stroke-width="0.7"/>
<path d="M63.85,128.39A10.5,10.5 0 0 1 68.31,116.33" fill="none" stroke="#cfcfcf" stroke-width="0.5" />
<circle cx="507" cy="113.75" r="10.5" fill="url(#sb)"/>
<path d="M507,113.75L516.98,113.84M507,113.75L517.02,115.53M507,113.75L516.42,117.14M507,113.75L516.05,118.95M507,113.75L514.84,120.54M507,113.75L512.98,121.41M507,113.75L512.18,122.82M507,113.75L510.03,122.85M507,113.75L509.02,123.46M507,113.75L507.33,123.45M507,113.75L505.58,123.8M507,113.75L503.22,123.43M507,113.75L502.15,122.72M507,113.75L500.74,121.02M507,113.75L498.78,120.23M507,113.75L498.07,119.18M507,113.75L497.67,117.23M507,113.75L496.77,115.14M507,113.75L497.1,114.02M507,113.75L497.35,112.04M507,113.75L497.73,110.63M507,113.75L498.88,108.87M507,113.75L499.43,107.35M507,113.75L500.42,106.49M507,113.75L502.09,105.05M507,113.75L503.07,104.03M507,113.75L505.42,103.4M507,113.75L506.69,104.03M507,113.75L508.41,103.58M507,113.75L510.11,104.68M507,113.75L512.15,104.71M507,113.75L513.44,106.46M507,113.75L514.79,106.83M507,113.75L515.85,108.71M507,113.75L515.83,110.21M507,113.75L516.77,112.18" fill="none" stroke="#d6d6d6" stroke-width="0.3" />
<circle cx="493.25" cy="136.75" r="10.5" fill="url(#sb)"/>
<path d="M493.25,136.75L503.68,136.39M493.25,136.75L503.37,138.65M493.25,136.75L503.09,139.96M493.25,136.75L502.39,141.61M493.25,136.75L500.79,143.03M493.25,136.75L499.92,144.76M493.25,136.75L498.2,144.96M493.25,136.75L496.55,145.87M493.25,136.75L495.22,146.17M493.25,136.75L493.6,146.41M493.25,136.75L491.7,146.4M493.25,136.75L489.72,145.84M493.25,136.75L488.43,145.1M493.25,136.75L487.25,144.08M493.25,136.75L486.12,142.98M493.25,136.75L484.47,141.6M493.25,136.75L483.99,140.38M493.25,136.75L483.78,138.08M493.25,136.75L483.35,136.5M493.25,136.75L483.08,134.96M493.25,136.75L483.84,133.42M493.25,136.75L484.25,131.37M493.25,136.75L485.26,130.21M493.25,136.75L486.88,128.89M493.25,136.75L488.28,128.29M493.25,136.75L489.65,127.86M493.25,136.75L491.13,126.74M493.25,136.75L493.06,127.13M493.25,136.75L494.71,126.52M493.25,136.75L497,127.32M493.25,136.75L497.95,128.26M493.25,136.75L499.51,129.04M493.25,136.75L500.67,130.17M493.25,136.75L502.21,131.35M493.25,136.75L502.79,133.68M493.25,136.75L503.52,134.72" fill="none" stroke="#d6d6d6" stroke-width="0.3" />
<circle cx="507" cy="162.5" r="10.5" fill="#fff" fill-opacity="0.6" stroke="#cfcfcf" stroke-width="0.7"/>
<path d="M502.95,172.84A10.5,10.5 0 0 1 496.95,161.47" fill="none" stroke="#cfcfcf" stroke-width="0.5" />
<circle cx="493.75" cy="186.25" r="10.5" fill="url(#sb)"/>
<path d="M493.75,186.25L503.2,186.14M493.75,186.25L503.56,187.88M493.75,186.25L502.83,189.56M493.75,186.25L501.94,190.98M493.75,186.25L501.18,192.25M493.75,186.25L499.91,193.47M493.75,186.25L498.95,194.52M493.75,186.25L497.39,195.63M493.75,186.25L495.5,196.34M493.75,186.25L493.62,196.45M493.75,186.25L491.74,195.9M493.75,186.25L490.3,196.15M493.75,186.25L488.89,195.23M493.75,186.25L487.56,193.45M493.75,186.25L485.62,192.71M493.75,186.25L484.85,191.27M493.75,186.25L484.65,189.31M493.75,186.25L483.92,187.96M493.75,186.25L483.46,185.97M493.75,186.25L483.89,184.24M493.75,186.25L484.31,182.47M493.75,186.25L485.43,181.28M493.75,186.25L486.18,180.37M493.75,186.25L487.52,179M493.75,186.25L488.97,177.43M493.75,186.25L490.39,176.72M493.75,186.25L492.16,176.41M493.75,186.25L493.34,175.97M493.75,186.25L495.68,176.46M493.75,186.25L497.25,176.73M493.75,186.25L498.55,177.22M493.75,186.25L499.73,178.83M493.75,186.25L501.45,179.54M493.75,186.25L502.48,180.93M493.75,186.25L503.24,183.2M493.75,186.25L503.54,184.43" fill="none" stroke="#d6d6d6" stroke-width="0.3" />
<circle cx="507" cy="208" r="10.5" fill="url(#sb)"/>
<path d="M507,208L517.25,208.15M507,208L516.95,209.85M507,208L516.13,210.98M507,208L515.96,212.94M507,208L514.8,214.34M507,208L513.39,215.04M507,208L512.24,216.7M507,208L510.33,217.6M507,208L508.9,217.81M507,208L507.03,217.94M507,208L505.51,218.28M507,208L503.65,217.93M507,208L501.98,216.03M507,208L500.4,215.92M507,208L499.17,214.09M507,208L498.72,212.99M507,208L497.8,210.98M507,208L497.54,209.61M507,208L496.55,207.98M507,208L496.8,206.51M507,208L497.25,204.44M507,208L498.69,203.02M507,208L499.58,201.36M507,208L500.65,200.99M507,208L502.03,199.41M507,208L503.57,199.03M507,208L505.18,198.39M507,208L507.26,198.55M507,208L509,197.86M507,208L510.27,198.1M507,208L512.35,199.09M507,208L513.2,200.36M507,208L514.98,201.18M507,208L515.55,203.15M507,208L516.13,204.62M507,208L516.35,206" fill="none" stroke="#d6d6d6" stroke-width="0.3" />
<circle cx="493" cy="234.5" r="10.5" fill="#fff" fill-opacity="0.6" stroke="#cfcfcf" stroke-width="0.7"/>
<path d="M498.61,224.92A10.5,10.5 0 0 1 502.76,237.08" fill="none" stroke="#cfcfcf" stroke-width="0.5" />
<circle cx="507" cy="256.25" r="10.5" fill="#fff" fill-opacity="0.6" stroke="#cfcfcf" stroke-width="0.7"/>
<path d="M504.55,267.08A10.5,10.5 0 0 1 496.91,256.73" fill="none" stroke="#cfcfcf" stroke-width="0.5" />
<circle cx="493.75" cy="281.25" r="10.5" fill="#fff" fill-opacity="0.6" stroke="#cfcfcf" stroke-width="0.7"/>
<path d="M503.94,276.85A10.5,10.5 0 0 1 500.09,289.11" fill="none" stroke="#cfcfcf" stroke-width="0.5" />
<circle cx="507" cy="305" r="10.5" fill="url(#sb)"/>
<path d="M507,305L516.73,304.8M507,305L516.5,306.68M507,305L516.86,308.48M507,305L515.76,310.42M507,305L514.9,311.77M507,305L513.17,312.9M507,305L511.61,313.31M507,305L510.22,314.39M507,305L508.56,315.01M507,305L507.16,314.5M507,305L505.01,314.38M507,305L503.67,314.23M507,305L502.03,313.94M507,305L500.47,312.2M507,305L499.44,311.18M507,305L498.43,309.89M507,305L498.05,308.53M507,305L496.8,307.05M507,305L497.32,305M507,305L496.73,302.84M507,305L497.97,301.75M507,305L498.62,300.43M507,305L499.61,298.96M507,305L500.6,297.69M507,305L501.86,295.98M507,305L503.81,295.65M507,305L505.2,295.16M507,305L506.9,295.2M507,305L508.35,295.35M507,305L510.61,296.12M507,305L512.06,296.24M507,305L513.43,297.77M507,305L514.32,298.62M507,305L515.55,299.97M507,305L516.84,301.82M507,305L516.37,303.63" fill="none" stroke="#d6d6d6" stroke-width="0.3" />
<circle cx="493" cy="328" r="10.5" fill="#fff" fill-opacity="0.6" stroke="#cfcfcf" stroke-width="0.7"/>
<path d="M503.87,330.23A10.5,10.5 0 0 1 493.69,338.08" fill="none" stroke="#cfcfcf" stroke-width="0.5" />
<circle cx="507" cy="353" r="10.5" fill="#fff" fill-opacity="0.6" stroke="#cfcfcf" stroke-width="0.7"/>
<path d="M504.18,342.26A10.5,10.5 0 0 1 515.73,347.92" fill="none" stroke="#cfcfcf" stroke-width="0.5" />
<circle cx="494.5" cy="377" r="10.5" fill="url(#sb)"/>
<path d="M494.5,377L504.44,377.31M494.5,377L503.79,378.71M494.5,377L504.33,380.48M494.5,377L503.32,382.41M494.5,377L501.7,383.52M494.5,377L500.91,384.17M494.5,377L499.57,385.81M494.5,377L497.65,386.71M494.5,377L496.16,387.12M494.5,377L494.53,387.03M494.5,377L493.09,387.17M494.5,377L491.15,386.86M494.5,377L489.52,385.4M494.5,377L488.48,384.62M494.5,377L486.63,383.46M494.5,377L486.4,382.02M494.5,377L485.04,380.42M494.5,377L484.98,378.77M494.5,377L485.04,376.92M494.5,377L484.69,375.43M494.5,377L485.12,373.19M494.5,377L486.04,371.76M494.5,377L486.93,370.92M494.5,377L488.24,368.96M494.5,377L489.64,368.87M494.5,377L491.02,367.45M494.5,377L492.75,367.44M494.5,377L494.64,366.58M494.5,377L495.94,367.62M494.5,377L497.76,367.66M494.5,377L499.45,368.71M494.5,377L501.26,369.32M494.5,377L501.91,370.79M494.5,377L503.15,372.43M494.5,377L503.69,373.92M494.5,377L504.55,375" fill="none" stroke="#d6d6d6" stroke-width="0.3" />
<circle cx="507" cy="401.25" r="10.5" fill="url(#sb)"/>
<path d="M507,401.25L517.45,401.08M507,401.25L516.5,402.92M507,401.25L516.36,404.43M507,401.25L515.98,406.59M507,401.25L514.73,407.37M507,401.25L513.91,409.12M507,401.25L511.99,409.34M507,401.25L510.7,410.39M507,401.25L508.48,411.52M507,401.25L506.8,411.75M507,401.25L504.97,410.83M507,401.25L503.68,411.14M507,401.25L502.1,409.37M507,401.25L500.57,408.71M507,401.25L499.56,407.62M507,401.25L498.94,406.19M507,401.25L497.83,404.77M507,401.25L497.51,402.57M507,401.25L497.34,400.89M507,401.25L496.82,399.58M507,401.25L497.78,397.62M507,401.25L498.21,396.59M507,401.25L498.95,394.64M507,401.25L500.5,393.88M507,401.25L502.52,392.89M507,401.25L503.41,391.59M507,401.25L505.55,391.87M507,401.25L506.65,391.74M507,401.25L509.01,391.74M507,401.25L510.75,391.56M507,401.25L511.76,392.76M507,401.25L513.77,393.76M507,401.25L514.69,394.54M507,401.25L515.36,396.26M507,401.25L516.48,397.37M507,401.25L517.01,399.83" fill="none" stroke="#d6d6d6" stroke-width="0.3" />
<circle cx="493" cy="423" r="10.5" fill="#fff" fill-opacity="0.6" stroke="#cfcfcf" stroke-width="0.7"/>
<path d="M503.39,419.09A10.5,10.5 0 0 1 498.95,431.16" fill="none" stroke="#cfcfcf" stroke-width="0.5" />
<circle cx="504.25" cy="450" r="10.5" fill="url(#sb)"/>
<path d="M504.25,450L513.94,449.63M504.25,450L514.55,451.79M504.25,450L513.38,453.7M504.25,450L512.92,454.78M504.25,450L512.24,456.7M504.25,450L511.06,457.71M504.25,450L509.24,459.03M504.25,450L507.49,459.55M504.25,450L506.08,459.61M504.25,450L504.36,460.27M504.25,450L502.89,459.56M504.25,450L500.75,459.06M504.25,450L499.8,458.37M504.25,450L497.92,457.47M504.25,450L496.05,456.36M504.25,450L495.64,454.53M504.25,450L495.39,453.56M504.25,450L494.21,451.77M504.25,450L494.55,450.04M504.25,450L494.29,448.31M504.25,450L494.68,446.37M504.25,450L495.61,444.68M504.25,450L496.14,443.6M504.25,450L497.67,442.41M504.25,450L499.05,441.2M504.25,450L500.71,440.96M504.25,450L502.39,440.57M504.25,450L504.56,439.95M504.25,450L505.83,440.26M504.25,450L508.03,440.76M504.25,450L509.21,440.97M504.25,450L511.09,442.05M504.25,450L511.66,443.37M504.25,450L513.33,445.06M504.25,450L513.27,447.05M504.25,450L513.65,448.18" fill="none" stroke="#d6d6d6" stroke-width="0.3" />
<circle cx="471.75" cy="460" r="10.5" fill="url(#sb)"/>
<path d="M471.75,460L482.22,459.74M471.75,460L482.01,461.88M471.75,460L481.52,463.44M471.75,460L480.19,464.83M471.75,460L479.6,466.89M471.75,460L478.47,467.51M471.75,460L476.51,468.43M471.75,460L475.13,468.98M471.75,460L473.66,469.53M471.75,460L471.67,470.13M471.75,460L470.33,469.35M471.75,460L468.41,469.6M471.75,460L467.08,468.59M471.75,460L465.33,468.03M471.75,460L464.44,466.09M471.75,460L463.37,465.2M471.75,460L462.23,463.42M471.75,460L462.33,461.98M471.75,460L461.87,459.85M471.75,460L462.1,458.47M471.75,460L462.69,456.32M471.75,460L463.27,455.04M471.75,460L463.77,453.4M471.75,460L465.73,452.22M471.75,460L466.43,451.28M471.75,460L468.31,451.19M471.75,460L470.35,450.21M471.75,460L472,450.13M471.75,460L473.77,450.27M471.75,460L474.75,451.02M471.75,460L476.85,451.25M471.75,460L478.12,452.89M471.75,460L479.35,453.75M471.75,460L480.07,455.2M471.75,460L481.08,456.42M471.75,460L481.22,458.66" fill="none" stroke="#d6d6d6" stroke-width="0.3" />
<circle cx="492.5" cy="473.75" r="10.5" fill="#fff" fill-opacity="0.6" stroke="#cfcfcf" stroke-width="0.7"/>
<path d="M481.42,474.43A10.5,10.5 0 0 1 489.21,464.2" fill="none" stroke="#cfcfcf" stroke-width="0.5" />
<circle cx="472.5" cy="493" r="10.5" fill="#fff" fill-opacity="0.6" stroke="#cfcfcf" stroke-width="0.7"/>
<path d="M476.22,482.54A10.5,10.5 0 0 1 482.57,493.72" fill="none" stroke="#cfcfcf" stroke-width="0.5" />
<circle cx="501.25" cy="498.75" r="10.5" fill="url(#sb)"/>
<path d="M501.25,498.75L510.9,499.11M501.25,498.75L511.58,500.26M501.25,498.75L510.47,502.51M501.25,498.75L510.46,503.64M501.25,498.75L509.28,505.36M501.25,498.75L507.8,506.72M501.25,498.75L506.63,507.51M501.25,498.75L504.83,507.95M501.25,498.75L502.76,508.96M501.25,498.75L501.5,508.43M501.25,498.75L499.59,508.61M501.25,498.75L498.06,507.78M501.25,498.75L496.32,507.69M501.25,498.75L494.92,505.82M501.25,498.75L493.37,505.3M501.25,498.75L492.5,504.24M501.25,498.75L491.89,502.49M501.25,498.75L491.29,500.47M501.25,498.75L491.36,498.9M501.25,498.75L491.51,496.97M501.25,498.75L491.97,495.24M501.25,498.75L493.02,494.05M501.25,498.75L493.68,492.27M501.25,498.75L494.5,491.04M501.25,498.75L496.48,490.04M501.25,498.75L497.61,489.49M501.25,498.75L499.29,489.37M501.25,498.75L501.2,489.2M501.25,498.75L502.94,488.91M501.25,498.75L504.36,489.12M501.25,498.75L506.06,489.73M501.25,498.75L507.84,491.24M501.25,498.75L508.66,492.07M501.25,498.75L510.25,493.44M501.25,498.75L510.87,494.93M501.25,498.75L511.38,497.38" fill="none" stroke="#d6d6d6" stroke-width="0.3" />
<circle cx="472.5" cy="522.5" r="10.5" fill="#fff" fill-opacity="0.6" stroke="#cfcfcf" stroke-width="0.7"/>
<path d="M476.88,512.3A10.5,10.5 0 0 1 482.51,523.86" fill="none" stroke="#cfcfcf" stroke-width="0.5" />
<circle cx="501.75" cy="526.25" r="10.5" fill="#fff" fill-opacity="0.6" stroke="#cfcfcf" stroke-width="0.7"/>
<path d="M505.6,536.66A10.5,10.5 0 0 1 493.56,532.16" fill="none" stroke="#cfcfcf" stroke-width="0.5" />
<circle cx="483.25" cy="547.5" r="10.5" fill="url(#sb)"/>
<path d="M483.25,547.5L493.21,547.88M483.25,547.5L493.43,549.68M483.25,547.5L493,550.76M483.25,547.5L491.32,552.54M483.25,547.5L491.18,553.99M483.25,547.5L490.14,555.27M483.25,547.5L488.56,556.33M483.25,547.5L486.93,556.77M483.25,547.5L484.61,557.07M483.25,547.5L483.44,557.48M483.25,547.5L481.74,556.87M483.25,547.5L480.19,556.62M483.25,547.5L477.86,556.12M483.25,547.5L476.83,554.68M483.25,547.5L475.78,553.48M483.25,547.5L474.48,552.54M483.25,547.5L473.55,551.15M483.25,547.5L473.34,549.2M483.25,547.5L473.69,547.21M483.25,547.5L473.37,545.35M483.25,547.5L473.55,544.06M483.25,547.5L474.07,542.43M483.25,547.5L475.76,541.14M483.25,547.5L477.04,539.77M483.25,547.5L477.91,538.78M483.25,547.5L479.38,537.94M483.25,547.5L481.3,537.57M483.25,547.5L483.64,537.44M483.25,547.5L485.07,537.89M483.25,547.5L486.14,538.46M483.25,547.5L488.05,538.62M483.25,547.5L489.63,539.81M483.25,547.5L490.79,541.57M483.25,547.5L491.92,542.24M483.25,547.5L492,543.93M483.25,547.5L492.65,545.73" fill="none" stroke="#d6d6d6" stroke-width="0.3" />
<circle cx="477.5" cy="571.25" r="10.5" fill="#fff" fill-opacity="0.6" stroke="#cfcfcf" stroke-width="0.7"/>
<path d="M470.59,579.94A10.5,10.5 0 0 1 468.2,567.3" fill="none" stroke="#cfcfcf" stroke-width="0.5" />
<circle cx="455" cy="582.5" r="10.5" fill="url(#sb)"/>
<path d="M455,582.5L465.06,582.28M455,582.5L464.51,584.25M455,582.5L464.31,586M455,582.5L464.18,587.45M455,582.5L462.48,588.52M455,582.5L461.75,590.04M455,582.5L459.87,591.54M455,582.5L458.4,591.61M455,582.5L457.15,592.4M455,582.5L454.95,592.32M455,582.5L453.16,592.24M455,582.5L451.17,591.98M455,582.5L449.98,591.61M455,582.5L448.85,590.4M455,582.5L447.62,588.79M455,582.5L446.29,587.94M455,582.5L445.72,586.29M455,582.5L445.49,583.83M455,582.5L444.91,582.74M455,582.5L445.03,580.74M455,582.5L446.03,578.98M455,582.5L446.47,577.75M455,582.5L446.81,576.12M455,582.5L448.62,574.54M455,582.5L449.48,573.76M455,582.5L451.78,573.1M455,582.5L453.47,572.69M455,582.5L454.79,572.94M455,582.5L456.45,573.12M455,582.5L458.37,572.83M455,582.5L460.31,573.63M455,582.5L461.38,575.15M455,582.5L462.62,576.16M455,582.5L463.77,577.7M455,582.5L464.45,578.86M455,582.5L464.59,581.18" fill="none" stroke="#d6d6d6" stroke-width="0.3" />
<circle cx="356.25" cy="576.5" r="10.5" fill="#fff" fill-opacity="0.6" stroke="#cfcfcf" stroke-width="0.7"/>
<path d="M364.32,568.88A10.5,10.5 0 0 1 364.89,581.72" fill="none" stroke="#cfcfcf" stroke-width="0.5" />
<circle cx="357" cy="598.75" r="10.5" fill="#fff" fill-opacity="0.6" stroke="#cfcfcf" stroke-width="0.7"/>
<path d="M368.05,599.81A10.5,10.5 0 0 1 358.76,608.7" fill="none" stroke="#cfcfcf" stroke-width="0.5" />
<circle cx="335" cy="616.75" r="10.5" fill="url(#sb)"/>
<path d="M335,616.75L344.7,616.56M335,616.75L345.25,618.76M335,616.75L344.13,620.28M335,616.75L343.33,621.9M335,616.75L343.11,623.27M335,616.75L341.46,624.61M335,616.75L340.12,625.89M335,616.75L338.56,626.45M335,616.75L336.64,626.97M335,616.75L335.05,626.96M335,616.75L333.25,626.36M335,616.75L331.76,626.32M335,616.75L330.1,625.93M335,616.75L329.12,624.18M335,616.75L327.23,623.7M335,616.75L326.75,621.65M335,616.75L326.21,620.33M335,616.75L325.01,618.35M335,616.75L324.78,616.59M335,616.75L325.03,615.35M335,616.75L325.28,613.33M335,616.75L326.14,611.33M335,616.75L326.84,610.37M335,616.75L328.56,608.53M335,616.75L329.91,608.54M335,616.75L331.48,607.94M335,616.75L333.49,606.56M335,616.75L335.11,606.43M335,616.75L336.79,607.16M335,616.75L337.98,607.67M335,616.75L340,608.48M335,616.75L341.25,609.08M335,616.75L342.2,610.22M335,616.75L343.74,611.5M335,616.75L344.16,613.31M335,616.75L344.88,615.38" fill="none" stroke="#d6d6d6" stroke-width="0.3" />
<circle cx="354.25" cy="636.25" r="10.5" fill="#fff" fill-opacity="0.6" stroke="#cfcfcf" stroke-width="0.7"/>
<path d="M360.83,627.31A10.5,10.5 0 0 1 363.69,639.84" fill="none" stroke="#cfcfcf" stroke-width="0.5" />
<circle cx="333" cy="651.25" r="10.5" fill="#fff" fill-opacity="0.6" stroke="#cfcfcf" stroke-width="0.7"/>
<path d="M324.81,643.76A10.5,10.5 0 0 1 337.58,642.25" fill="none" stroke="#cfcfcf" stroke-width="0.5" />
<circle cx="368" cy="660.75" r="10.5" fill="url(#sb)"/>
<path d="M368,660.75L377.88,660.38M368,660.75L378.11,662.48M368,660.75L377.62,664.12M368,660.75L376.37,665.61M368,660.75L375.13,667.09M368,660.75L374,668.28M368,660.75L373.16,668.92M368,660.75L371.38,670.67M368,660.75L370.12,670.49M368,660.75L368.01,671.04M368,660.75L366.52,670.61M368,660.75L364.59,670.49M368,660.75L362.95,669.89M368,660.75L361.91,668.27M368,660.75L360.26,667.04M368,660.75L359.4,666.08M368,660.75L358.47,664.59M368,660.75L357.85,662.37M368,660.75L358.18,660.65M368,660.75L358.27,659.11M368,660.75L359.14,657.21M368,660.75L359.94,655.76M368,660.75L360.4,654.67M368,660.75L361.84,652.91M368,660.75L362.72,651.81M368,660.75L364.4,651.49M368,660.75L366.25,650.66M368,660.75L368.2,650.62M368,660.75L369.58,651.09M368,660.75L371.27,650.94M368,660.75L373.23,651.96M368,660.75L374.17,652.99M368,660.75L375.84,654.45M368,660.75L376.45,655.53M368,660.75L377.21,657.71M368,660.75L377.57,658.82" fill="none" stroke="#d6d6d6" stroke-width="0.3" />
<circle cx="343.75" cy="671.25" r="10.5" fill="url(#sb)"/>
<path d="M343.75,671.25L354.08,671.42M343.75,671.25L353.26,672.66M343.75,671.25L353.02,674.41M343.75,671.25L352.07,676.07M343.75,671.25L351.23,677.35M343.75,671.25L350.01,679.32M343.75,671.25L349.27,680.14M343.75,671.25L347.41,680.4M343.75,671.25L345.14,681.44M343.75,671.25L343.57,681.15M343.75,671.25L342.24,681.26M343.75,671.25L340.73,680.43M343.75,671.25L339.08,679.51M343.75,671.25L337.21,679.18M343.75,671.25L336.01,677.54M343.75,671.25L335.09,676.13M343.75,671.25L334.38,674.97M343.75,671.25L333.69,673.1M343.75,671.25L333.85,670.93M343.75,671.25L333.68,669.41M343.75,671.25L334.62,667.99M343.75,671.25L334.86,665.9M343.75,671.25L336.09,664.53M343.75,671.25L337.44,663.28M343.75,671.25L338.88,662.6M343.75,671.25L340.15,661.8M343.75,671.25L341.72,661.57M343.75,671.25L343.98,661.05M343.75,671.25L345.54,661.7M343.75,671.25L347.09,661.9M343.75,671.25L348.77,662.74M343.75,671.25L350.56,663.36M343.75,671.25L351.35,664.54M343.75,671.25L352.39,666.51M343.75,671.25L353.59,667.66M343.75,671.25L353.55,669.15" fill="none" stroke="#d6d6d6" stroke-width="0.3" />
<circle cx="394.5" cy="655.25" r="10.5" fill="#fff" fill-opacity="0.6" stroke="#cfcfcf" stroke-width="0.7"/>
<path d="M400.4,664.65A10.5,10.5 0 0 1 387.69,662.71" fill="none" stroke="#cfcfcf" stroke-width="0.5" />
<circle cx="360.5" cy="689.5" r="10.5" fill="#fff" fill-opacity="0.6" stroke="#cfcfcf" stroke-width="0.7"/>
<path d="M362.68,678.62A10.5,10.5 0 0 1 370.57,688.76" fill="none" stroke="#cfcfcf" stroke-width="0.5" />
<circle cx="334.5" cy="695.75" r="10.5" fill="url(#sb)"/>
<path d="M334.5,695.75L344.49,696.1M334.5,695.75L344.45,697.18M334.5,695.75L344.08,699.27M334.5,695.75L343.26,700.82M334.5,695.75L341.99,702.38M334.5,695.75L341.27,703.7M334.5,695.75L339.79,704.44M334.5,695.75L338.09,705.35M334.5,695.75L336.63,706.01M334.5,695.75L334.61,705.26M334.5,695.75L332.96,705.5M334.5,695.75L331.48,705.17M334.5,695.75L329.46,704.6M334.5,695.75L328.34,703.28M334.5,695.75L326.81,702.5M334.5,695.75L325.67,700.44M334.5,695.75L324.91,699.49M334.5,695.75L324.99,697.51M334.5,695.75L324.24,696.05M334.5,695.75L324.58,693.75M334.5,695.75L325.06,692.34M334.5,695.75L325.33,690.72M334.5,695.75L326.67,689.34M334.5,695.75L328.08,687.69M334.5,695.75L329.6,687.31M334.5,695.75L331.26,686.73M334.5,695.75L333.05,686.03M334.5,695.75L334.77,686.02M334.5,695.75L336.09,686.17M334.5,695.75L337.75,686.67M334.5,695.75L339.25,686.71M334.5,695.75L340.61,688.21M334.5,695.75L342.02,689.23M334.5,695.75L343.23,690.64M334.5,695.75L343.78,692.51M334.5,695.75L344.75,694.3" fill="none" stroke="#d6d6d6" stroke-width="0.3" />
<circle cx="333.75" cy="719.25" r="10.5" fill="#fff" fill-opacity="0.6" stroke="#cfcfcf" stroke-width="0.7"/>
<path d="M344.14,723.14A10.5,10.5 0 0 1 332.87,729.31" fill="none" stroke="#cfcfcf" stroke-width="0.5" />
<path d="M62.5,383.75V61.25" fill="none" stroke="#9a9a9a" stroke-width="1.3" />
<path d="M62.5,61.25H461.75" fill="none" stroke="#939393" stroke-width="1.9" />
<line x1="395" y1="61.25" x2="461.75" y2="61.25" stroke="#808080" stroke-width="2.2" />
<path d="M62.5,383.75V61.25" fill="none" stroke="#868686" stroke-width="1.7" stroke-dasharray="21 7 7 6 7 7"/>
<path d="M62.5,61.25H461.75" fill="none" stroke="#808080" stroke-width="2.1" stroke-dasharray="21 7 7 6 7 7"/>
<path d="M461.75,61.25H518" fill="none" stroke="#7a7a7a" stroke-width="2" stroke-dasharray="21 7 7 6 7 7" stroke-dashoffset="-5.75"/>
<path d="M518,61.25V556" fill="none" stroke="#7a7a7a" stroke-width="2" stroke-dasharray="21 7 7 6 7 7" stroke-dashoffset="-18.25"/>
<path d="M518,556L329,745" fill="none" stroke="#7a7a7a" stroke-width="2" stroke-dasharray="21 7 7 6 7 7" stroke-dashoffset="-18.2"/>
<path d="M62.5,745H329" fill="none" stroke="#7a7a7a" stroke-width="2" stroke-dasharray="21 7 7 6 7 7" stroke-dashoffset="-30"/>
<path d="M62.5,707V745" fill="none" stroke="#7a7a7a" stroke-width="2" stroke-dasharray="7 6 21 7"/>
<rect x="127.2" y="59" width="4.6" height="4.6" fill="#9a9a9a" stroke="#7a7a7a" stroke-width="0.6" />
<rect x="193.45" y="59" width="4.6" height="4.6" fill="#9a9a9a" stroke="#7a7a7a" stroke-width="0.6" />
<rect x="259.7" y="59" width="4.6" height="4.6" fill="#9a9a9a" stroke="#7a7a7a" stroke-width="0.6" />
<rect x="326.2" y="59" width="4.6" height="4.6" fill="#9a9a9a" stroke="#7a7a7a" stroke-width="0.6" />
<rect x="60.2" y="59" width="4.6" height="4.6" fill="#9a9a9a" stroke="#7a7a7a" stroke-width="0.6" />
<rect x="393" y="59.25" width="4" height="4" fill="#fff" stroke="#858585" stroke-width="0.8" />
<rect x="459.75" y="59.25" width="4" height="4" fill="#fff" stroke="#858585" stroke-width="0.8" />
<rect x="459.75" y="95.5" width="4" height="4" fill="#fff" stroke="#858585" stroke-width="0.8" />
<rect x="60.5" y="139.75" width="4" height="4" fill="#fff" stroke="#858585" stroke-width="0.8" />
<rect x="60.5" y="219.75" width="4" height="4" fill="#fff" stroke="#858585" stroke-width="0.8" />
<rect x="60.5" y="299.75" width="4" height="4" fill="#fff" stroke="#858585" stroke-width="0.8" />
<rect x="60.5" y="379" width="4" height="4" fill="#fff" stroke="#858585" stroke-width="0.8" />
<path d="M433.5,80A33,33 0 0 0 459.5,96.5" fill="none" stroke="#858585" stroke-width="0.7" />
<line x1="461.5" y1="62" x2="433.5" y2="80" stroke="#858585" stroke-width="1.5" />
<line x1="336.9" y1="218.2" x2="744.5" y2="218.2" stroke="#8b4a5e" stroke-width="1.7" stroke-dasharray="6.6 4.03"/>
<line x1="326.2" y1="347.6" x2="744.5" y2="347.6" stroke="#8b4a5e" stroke-width="1.7" stroke-dasharray="6.6 4.03"/>
<path d="M583,261.4H531M532,258.4L523.3,261.4L532,264.4Z" fill="#8b4a5e" stroke="#8b4a5e" stroke-width="0.8" />
<path d="M523,304.4H574M573.5,301.4L582.2,304.4L573.5,307.4Z" fill="#8b4a5e" stroke="#8b4a5e" stroke-width="0.8" />
<text x="552.5" y="281.3" font-size="11.3" fill="#3a475c" text-anchor="middle" textLength="43" lengthAdjust="spacing">Upgrade</text>
<text x="552.5" y="294.6" font-size="11.3" fill="#3a475c" text-anchor="middle" textLength="37" lengthAdjust="spacing">options</text>
<circle cx="190" cy="255.75" r="9.5" fill="#0f2a4d"/>
<text x="190" y="259.45" font-size="10.5" font-weight="700" fill="#fff" text-anchor="middle">1</text>
<circle cx="213.25" cy="331.25" r="9.5" fill="#0f2a4d"/>
<text x="213.25" y="334.95" font-size="10.5" font-weight="700" fill="#fff" text-anchor="middle">2</text>
<circle cx="206.25" cy="428" r="9.5" fill="#0f2a4d"/>
<text x="206.25" y="431.7" font-size="10.5" font-weight="700" fill="#fff" text-anchor="middle">3</text>
<circle cx="346.75" cy="503" r="9.5" fill="#0f2a4d"/>
<text x="346.75" y="506.7" font-size="10.5" font-weight="700" fill="#fff" text-anchor="middle">4</text>
<circle cx="433.75" cy="399.5" r="9.5" fill="#0f2a4d"/>
<text x="433.75" y="403.2" font-size="10.5" font-weight="700" fill="#fff" text-anchor="middle">5</text>
<circle cx="450.5" cy="198.75" r="9.5" fill="#0f2a4d"/>
<text x="450.5" y="202.45" font-size="10.5" font-weight="700" fill="#fff" text-anchor="middle">6</text>
<circle cx="361" cy="389.25" r="9.5" fill="#0f2a4d"/>
<text x="361" y="392.95" font-size="10.5" font-weight="700" fill="#fff" text-anchor="middle">7</text>
<circle cx="226.25" cy="128.75" r="9.5" fill="#0f2a4d"/>
<text x="226.25" y="132.45" font-size="10.5" font-weight="700" fill="#fff" text-anchor="middle">8</text>
<circle cx="170" cy="498.75" r="9.5" fill="#0f2a4d"/>
<text x="170" y="502.45" font-size="10.5" font-weight="700" fill="#fff" text-anchor="middle">9</text>
<circle cx="361.25" cy="285" r="9.5" fill="#0f2a4d"/>
<text x="361.25" y="288.4" font-size="9.5" font-weight="700" fill="#fff" text-anchor="middle">10</text>
<circle cx="116.5" cy="422" r="9.5" fill="#0f2a4d"/>
<text x="116.5" y="425.4" font-size="9.5" font-weight="700" fill="#fff" text-anchor="middle">11</text>
<text x="584.8" y="402.5" font-size="12.3" font-weight="700" fill="#3a475c" textLength="108.6" lengthAdjust="spacing">Upgrade Option 1</text>
<text x="584.8" y="419.9" font-size="12.3" fill="#3a475c" textLength="130" lengthAdjust="spacing">Study with swing door</text>
<text x="584.8" y="450.1" font-size="12.3" font-weight="700" fill="#3a475c" textLength="108.6" lengthAdjust="spacing">Upgrade Option 2</text>
<text x="584.8" y="468" font-size="12.3" fill="#3a475c" textLength="127" lengthAdjust="spacing">Study with bifold door</text>
<circle cx="593.6" cy="513.6" r="9.2" fill="#0f2a4d"/>
<text x="593.6" y="517.1" font-size="10" font-weight="700" fill="#fff" text-anchor="middle">1</text>
<text x="611.7" y="517.9" font-size="12.3" fill="#3a475c" textLength="34.1" lengthAdjust="spacing">Living</text>
<circle cx="593.6" cy="538.6" r="9.2" fill="#0f2a4d"/>
<text x="593.6" y="542.1" font-size="10" font-weight="700" fill="#fff" text-anchor="middle">2</text>
<text x="611.7" y="542.9" font-size="12.3" fill="#3a475c" textLength="36.9" lengthAdjust="spacing">Dining</text>
<circle cx="593.6" cy="563.6" r="9.2" fill="#0f2a4d"/>
<text x="593.6" y="567.1" font-size="10" font-weight="700" fill="#fff" text-anchor="middle">3</text>
<text x="611.7" y="567.9" font-size="12.3" fill="#3a475c" textLength="42.6" lengthAdjust="spacing">Kitchen</text>
<circle cx="593.6" cy="588.6" r="9.2" fill="#0f2a4d"/>
<text x="593.6" y="592.1" font-size="10" font-weight="700" fill="#fff" text-anchor="middle">4</text>
<text x="611.7" y="592.9" font-size="12.3" fill="#3a475c" textLength="61.9" lengthAdjust="spacing">Bedroom 1</text>
<circle cx="593.6" cy="613.6" r="9.2" fill="#0f2a4d"/>
<text x="593.6" y="617.1" font-size="10" font-weight="700" fill="#fff" text-anchor="middle">5</text>
<text x="611.7" y="617.9" font-size="12.3" fill="#3a475c" textLength="41.8" lengthAdjust="spacing">Ensuite</text>
<circle cx="593.6" cy="638.6" r="9.2" fill="#0f2a4d"/>
<text x="593.6" y="642.1" font-size="10" font-weight="700" fill="#fff" text-anchor="middle">6</text>
<text x="611.7" y="642.9" font-size="12.3" fill="#3a475c" textLength="62.4" lengthAdjust="spacing">Bedroom 2</text>
<circle cx="593.6" cy="663.6" r="9.2" fill="#0f2a4d"/>
<text x="593.6" y="667.1" font-size="10" font-weight="700" fill="#fff" text-anchor="middle">7</text>
<text x="611.7" y="667.9" font-size="12.3" fill="#3a475c" textLength="57.5" lengthAdjust="spacing">Bathroom</text>
<circle cx="593.6" cy="688.6" r="9.2" fill="#0f2a4d"/>
<text x="593.6" y="692.1" font-size="10" font-weight="700" fill="#fff" text-anchor="middle">8</text>
<text x="611.7" y="692.9" font-size="12.3" fill="#3a475c" textLength="47.3" lengthAdjust="spacing">Alfresco</text>
<circle cx="593.6" cy="713.6" r="9.2" fill="#0f2a4d"/>
<text x="593.6" y="717.1" font-size="10" font-weight="700" fill="#fff" text-anchor="middle">9</text>
<text x="611.7" y="717.9" font-size="12.3" fill="#3a475c" textLength="42.6" lengthAdjust="spacing">Garage</text>
<circle cx="593.6" cy="738.6" r="9.2" fill="#0f2a4d"/>
<text x="593.6" y="741.8" font-size="9" font-weight="700" fill="#fff" text-anchor="middle">10</text>
<text x="611.7" y="742.9" font-size="12.3" fill="#3a475c" textLength="118.3" lengthAdjust="spacing">Multi-Purpose Room</text>
<circle cx="593.6" cy="763.6" r="9.2" fill="#0f2a4d"/>
<text x="593.6" y="766.8" font-size="9" font-weight="700" fill="#fff" text-anchor="middle">11</text>
<text x="611.7" y="767.9" font-size="12.3" fill="#3a475c" textLength="47.3" lengthAdjust="spacing">Laundry</text>
</svg>
</body></html>
